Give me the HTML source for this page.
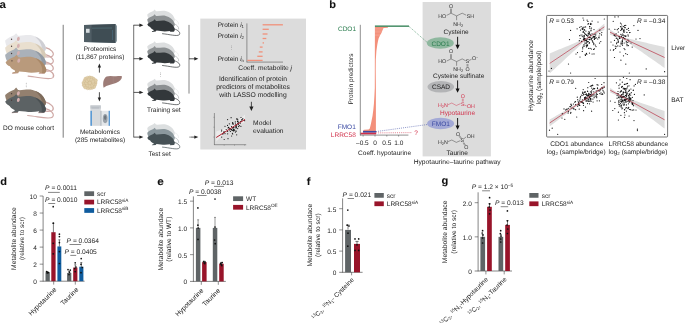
<!DOCTYPE html>
<html lang="en"><head><meta charset="utf-8"><title>Figure</title>
<style>html,body{margin:0;padding:0;background:#fff;overflow:hidden;}svg{display:block;}text{font-family:"Liberation Sans",sans-serif;text-rendering:geometricPrecision;}</style></head>
<body>
<svg width="685" height="323" viewBox="0 0 685 323" font-family="Liberation Sans, sans-serif" font-size="6.5" fill="#222">
<rect x="0" y="0" width="685" height="323" fill="#ffffff"/>
<text transform="translate(-0.5 7.7) scale(1.1 1)" font-size="10.5" font-weight="bold" fill="#111" stroke="#111" stroke-width="0.08">a</text>
<g transform="translate(5.2 40.6) scale(1.48)">
<path d="M26.8,4.6 C31,5.6 33.6,8.4 32,10.4 C30,12.4 22,10 15.2,9.4" fill="none" stroke="#cfa9a6" stroke-width="0.8" stroke-linecap="round"/>
<path d="M0,0 C1.3,-1.3 3.9,-2.9 6,-3.6 L7.4,-5 L8.7,-3.3 C12,-3 15,-4.3 18.5,-3.4 C22.5,-2.4 25.6,0.2 26.8,3 C27.8,4.8 27.8,6.6 26.4,7.4 L3,7.4 C1.3,5 -0.2,1.4 0,0 Z" fill="#e9e9ec"/>
<path d="M20,-2.8 C23.5,-1.6 25.8,0.6 26.8,3 C27.8,4.8 27.8,6.6 26.4,7.4 L24.5,7.4 C25.6,4 23.6,0 20,-2.8 Z" fill="#cfcfd4"/>
<ellipse cx="8.9" cy="-1.1" rx="0.95" ry="1.45" fill="#d6b0b0" transform="rotate(15 8.9 -1.1)"/>
<circle cx="4.3" cy="-0.9" r="0.45" fill="#4a3a3a"/>
</g>
<g transform="translate(5.2 47.6) scale(1.48)">
<path d="M26.8,4.6 C31,5.6 33.6,8.4 32,10.4 C30,12.4 22,10 15.2,9.4" fill="none" stroke="#cfa9a6" stroke-width="0.8" stroke-linecap="round"/>
<path d="M0,0 C1.3,-1.3 3.9,-2.9 6,-3.6 L7.4,-5 L8.7,-3.3 C12,-3 15,-4.3 18.5,-3.4 C22.5,-2.4 25.6,0.2 26.8,3 C27.8,4.8 27.8,6.6 26.4,7.4 L3,7.4 C1.3,5 -0.2,1.4 0,0 Z" fill="#e9dfcf"/>
<path d="M20,-2.8 C23.5,-1.6 25.8,0.6 26.8,3 C27.8,4.8 27.8,6.6 26.4,7.4 L24.5,7.4 C25.6,4 23.6,0 20,-2.8 Z" fill="#d6cab6"/>
<ellipse cx="8.9" cy="-1.1" rx="0.95" ry="1.45" fill="#d6b0b0" transform="rotate(15 8.9 -1.1)"/>
<circle cx="4.3" cy="-0.9" r="0.45" fill="#4a3a3a"/>
</g>
<g transform="translate(5.2 54.8) scale(1.48)">
<path d="M26.8,4.6 C31,5.6 33.6,8.4 32,10.4 C30,12.4 22,10 15.2,9.4" fill="none" stroke="#cfa9a6" stroke-width="0.8" stroke-linecap="round"/>
<path d="M0,0 C1.3,-1.3 3.9,-2.9 6,-3.6 L7.4,-5 L8.7,-3.3 C12,-3 15,-4.3 18.5,-3.4 C22.5,-2.4 25.6,0.2 26.8,3 C27.8,4.8 27.8,6.6 26.4,7.4 L3,7.4 C1.3,5 -0.2,1.4 0,0 Z" fill="#aab1b9"/>
<path d="M20,-2.8 C23.5,-1.6 25.8,0.6 26.8,3 C27.8,4.8 27.8,6.6 26.4,7.4 L24.5,7.4 C25.6,4 23.6,0 20,-2.8 Z" fill="#9299a2"/>
<ellipse cx="8.9" cy="-1.1" rx="0.95" ry="1.45" fill="#d6b0b0" transform="rotate(15 8.9 -1.1)"/>
<circle cx="4.3" cy="-0.9" r="0.45" fill="#4a3a3a"/>
</g>
<g transform="translate(5.6 62.2) scale(1.48)">
<path d="M26.8,4.6 C31,5.6 33.6,8.4 32,10.4 C30,12.4 22,10 15.2,9.4" fill="none" stroke="#cfa9a6" stroke-width="0.8" stroke-linecap="round"/>
<path d="M4.4,7.5 L8.6,7.2 M22.4,7.5 L26.4,7.4" stroke="#cfa9a6" stroke-width="0.7" fill="none"/>
<path d="M0,0 C1.3,-1.3 3.9,-2.9 6,-3.6 L7.4,-5 L8.7,-3.3 C12,-3 15,-4.3 18.5,-3.4 C22.5,-2.4 25.6,0.2 26.8,3 C27.8,4.8 27.8,6.6 26.4,7.4 L22.5,7.5 L23,6.6 C20,7 17,7.4 13.5,6.7 L9.2,6.3 L8.4,7.3 L4.6,7.6 L4.7,7 L6.4,6.4 L6.3,5.6 C4.5,4.9 3.2,3.6 2.9,2.8 C1.6,2.3 0.2,1.2 0,0 Z" fill="#b99a7c"/>
<path d="M20,-2.8 C23.5,-1.6 25.8,0.6 26.8,3 C27.8,4.8 27.8,6.6 26.4,7.4 L24.5,7.4 C25.6,4 23.6,0 20,-2.8 Z" fill="#a88868"/>
<ellipse cx="8.9" cy="-1.1" rx="0.95" ry="1.45" fill="#d6b0b0" transform="rotate(15 8.9 -1.1)"/>
<circle cx="4.3" cy="-0.9" r="0.45" fill="#4a3a3a"/>
</g>
<circle cx="26.2" cy="83.2" r="0.35" fill="#444"/>
<circle cx="26.2" cy="85.0" r="0.35" fill="#444"/>
<circle cx="26.2" cy="86.8" r="0.35" fill="#444"/>
<g transform="translate(5.2 95.0) scale(1.48)">
<path d="M26.8,4.6 C31,5.6 33.6,8.4 32,10.4 C30,12.4 22,10 15.2,9.4" fill="none" stroke="#cfa9a6" stroke-width="0.8" stroke-linecap="round"/>
<path d="M0,0 C1.3,-1.3 3.9,-2.9 6,-3.6 L7.4,-5 L8.7,-3.3 C12,-3 15,-4.3 18.5,-3.4 C22.5,-2.4 25.6,0.2 26.8,3 C27.8,4.8 27.8,6.6 26.4,7.4 L3,7.4 C1.3,5 -0.2,1.4 0,0 Z" fill="#93806f"/>
<path d="M20,-2.8 C23.5,-1.6 25.8,0.6 26.8,3 C27.8,4.8 27.8,6.6 26.4,7.4 L24.5,7.4 C25.6,4 23.6,0 20,-2.8 Z" fill="#7d6b5b"/>
<ellipse cx="8.9" cy="-1.1" rx="0.95" ry="1.45" fill="#d6b0b0" transform="rotate(15 8.9 -1.1)"/>
<circle cx="4.3" cy="-0.9" r="0.45" fill="#4a3a3a"/>
</g>
<g transform="translate(5.2 101.6) scale(1.48)">
<path d="M26.8,4.6 C31,5.6 33.6,8.4 32,10.4 C30,12.4 22,10 15.2,9.4" fill="none" stroke="#cfa9a6" stroke-width="0.8" stroke-linecap="round"/>
<path d="M4.4,7.5 L8.6,7.2 M22.4,7.5 L26.4,7.4" stroke="#cfa9a6" stroke-width="0.7" fill="none"/>
<path d="M0,0 C1.3,-1.3 3.9,-2.9 6,-3.6 L7.4,-5 L8.7,-3.3 C12,-3 15,-4.3 18.5,-3.4 C22.5,-2.4 25.6,0.2 26.8,3 C27.8,4.8 27.8,6.6 26.4,7.4 L22.5,7.5 L23,6.6 C20,7 17,7.4 13.5,6.7 L9.2,6.3 L8.4,7.3 L4.6,7.6 L4.7,7 L6.4,6.4 L6.3,5.6 C4.5,4.9 3.2,3.6 2.9,2.8 C1.6,2.3 0.2,1.2 0,0 Z" fill="#5c6264"/>
<path d="M20,-2.8 C23.5,-1.6 25.8,0.6 26.8,3 C27.8,4.8 27.8,6.6 26.4,7.4 L24.5,7.4 C25.6,4 23.6,0 20,-2.8 Z" fill="#4a5052"/>
<ellipse cx="8.9" cy="-1.1" rx="0.95" ry="1.45" fill="#d6b0b0" transform="rotate(15 8.9 -1.1)"/>
<circle cx="4.3" cy="-0.9" r="0.45" fill="#4a3a3a"/>
</g>
<text x="28.5" y="129.9" text-anchor="middle" >DO mouse cohort</text>
<line x1="63.2" y1="24.8" x2="63.2" y2="137.7" stroke="#444" stroke-width="0.7" />
<path d="M84,25 L115.5,24 L117,26 L117,41 L115.5,43 L84,42 Z" fill="#8d9ca3"/>
<path d="M84,25 L115.5,24 L115.5,43 L84,42 Z" fill="#3f4d54"/>
<rect x="84.00" y="25.00" width="7.60" height="17.00" fill="#505e65" />
<rect x="86.00" y="28.80" width="3.60" height="4.00" fill="#d7dde0" />
<line x1="92" y1="28.2" x2="112" y2="28" stroke="#5f8f98" stroke-width="0.4" />
<line x1="112.5" y1="30" x2="112.5" y2="40" stroke="#4f7f9a" stroke-width="0.4" />
<text x="100" y="50.9" text-anchor="middle" >Proteomics</text>
<text x="100" y="59.3" text-anchor="middle" >(11,867 proteins)</text>
<line x1="99.4" y1="72.6" x2="99.4" y2="66.26" stroke="#222" stroke-width="0.8" />
<path d="M99.4 63.6 L97.75 67.4 L101.05000000000001 67.4 Z" fill="#222"/>
<ellipse cx="89.8" cy="82.9" rx="6.2" ry="6.0" fill="#dcc9a1"/>
<circle cx="95.4" cy="82.9" r="1.75" fill="#dfcda7" stroke="#c9b286" stroke-width="0.3"/>
<circle cx="94.8" cy="84.9" r="1.75" fill="#dfcda7" stroke="#c9b286" stroke-width="0.3"/>
<circle cx="93.9" cy="86.9" r="1.75" fill="#dfcda7" stroke="#c9b286" stroke-width="0.3"/>
<circle cx="91.9" cy="87.8" r="1.75" fill="#dfcda7" stroke="#c9b286" stroke-width="0.3"/>
<circle cx="89.8" cy="88.1" r="1.75" fill="#dfcda7" stroke="#c9b286" stroke-width="0.3"/>
<circle cx="87.6" cy="88.1" r="1.75" fill="#dfcda7" stroke="#c9b286" stroke-width="0.3"/>
<circle cx="85.3" cy="87.3" r="1.75" fill="#dfcda7" stroke="#c9b286" stroke-width="0.3"/>
<circle cx="84.0" cy="85.2" r="1.75" fill="#dfcda7" stroke="#c9b286" stroke-width="0.3"/>
<circle cx="83.6" cy="82.9" r="1.75" fill="#dfcda7" stroke="#c9b286" stroke-width="0.3"/>
<circle cx="84.7" cy="80.8" r="1.75" fill="#dfcda7" stroke="#c9b286" stroke-width="0.3"/>
<circle cx="85.6" cy="78.8" r="1.75" fill="#dfcda7" stroke="#c9b286" stroke-width="0.3"/>
<circle cx="87.6" cy="77.9" r="1.75" fill="#dfcda7" stroke="#c9b286" stroke-width="0.3"/>
<circle cx="89.8" cy="77.6" r="1.75" fill="#dfcda7" stroke="#c9b286" stroke-width="0.3"/>
<circle cx="91.9" cy="78.0" r="1.75" fill="#dfcda7" stroke="#c9b286" stroke-width="0.3"/>
<circle cx="93.7" cy="79.1" r="1.75" fill="#dfcda7" stroke="#c9b286" stroke-width="0.3"/>
<circle cx="95.7" cy="80.5" r="1.75" fill="#dfcda7" stroke="#c9b286" stroke-width="0.3"/>
<circle cx="93.1" cy="83.9" r="1.75" fill="#dfcda7" stroke="#c9b286" stroke-width="0.3"/>
<circle cx="91.7" cy="85.8" r="1.75" fill="#dfcda7" stroke="#c9b286" stroke-width="0.3"/>
<circle cx="89.4" cy="86.3" r="1.75" fill="#dfcda7" stroke="#c9b286" stroke-width="0.3"/>
<circle cx="87.2" cy="85.2" r="1.75" fill="#dfcda7" stroke="#c9b286" stroke-width="0.3"/>
<circle cx="86.3" cy="83.1" r="1.75" fill="#dfcda7" stroke="#c9b286" stroke-width="0.3"/>
<circle cx="87.0" cy="80.8" r="1.75" fill="#dfcda7" stroke="#c9b286" stroke-width="0.3"/>
<circle cx="89.0" cy="79.6" r="1.75" fill="#dfcda7" stroke="#c9b286" stroke-width="0.3"/>
<circle cx="91.4" cy="79.9" r="1.75" fill="#dfcda7" stroke="#c9b286" stroke-width="0.3"/>
<circle cx="93.0" cy="81.6" r="1.75" fill="#dfcda7" stroke="#c9b286" stroke-width="0.3"/>
<circle cx="89.8" cy="82.9" r="1.75" fill="#dfcda7" stroke="#c9b286" stroke-width="0.3"/>
<path d="M103.6,87.8 C102.6,83 103.4,78.6 106.6,76.6 C109,75.4 113,76.2 116,76.2 C118.4,76.2 121,75.6 122,76.4 C122,79 119.6,81.6 116,83 C111.6,84.6 107,85 103.6,87.8 Z" fill="#9d7c77"/>
<line x1="113.2" y1="76.4" x2="113.2" y2="83.6" stroke="#b09490" stroke-width="0.3" />
<line x1="99.4" y1="92.2" x2="99.4" y2="98.74000000000001" stroke="#222" stroke-width="0.8" />
<path d="M99.4 101.4 L97.75 97.60000000000001 L101.05000000000001 97.60000000000001 Z" fill="#222"/>
<rect x="90.40" y="105.40" width="10.40" height="20.40" fill="#d7dadd" />
<rect x="90.40" y="110.80" width="1.60" height="15.00" fill="#5b9bd5" />
<rect x="90.40" y="105.40" width="10.40" height="3.20" fill="#c3c8cd" />
<line x1="91.6" y1="108" x2="99" y2="108" stroke="#9aa0a8" stroke-width="0.4" />
<rect x="100.80" y="110.80" width="9.20" height="15.00" fill="#e4e7ea" />
<rect x="108.60" y="110.80" width="1.40" height="15.00" fill="#5b9bd5" />
<rect x="100.20" y="110.80" width="1.40" height="15.00" fill="#b9bec4" />
<ellipse cx="105.2" cy="118.6" rx="2.4" ry="4.6" fill="#9aa2aa"/>
<ellipse cx="105.2" cy="117.6" rx="1.2" ry="2.4" fill="#6e767e"/>
<text x="100" y="133.8" text-anchor="middle" >Metabolomics</text>
<text x="100" y="142.1" text-anchor="middle" >(285 metabolites)</text>
<line x1="133.7" y1="24.9" x2="133.7" y2="137.4" stroke="#333" stroke-width="0.7" />
<line x1="133.7" y1="25.2" x2="140.6" y2="25.2" stroke="#222" stroke-width="0.75" />
<path d="M143.4 25.2 L139.4 23.5 L139.4 26.9 Z" fill="#222"/>
<line x1="133.7" y1="58.7" x2="140.6" y2="58.7" stroke="#222" stroke-width="0.75" />
<path d="M143.4 58.7 L139.4 57.0 L139.4 60.400000000000006 Z" fill="#222"/>
<line x1="133.7" y1="92.4" x2="140.6" y2="92.4" stroke="#222" stroke-width="0.75" />
<path d="M143.4 92.4 L139.4 90.7 L139.4 94.10000000000001 Z" fill="#222"/>
<line x1="133.7" y1="137.1" x2="140.6" y2="137.1" stroke="#222" stroke-width="0.75" />
<path d="M143.4 137.1 L139.4 135.4 L139.4 138.79999999999998 Z" fill="#222"/>
<g transform="translate(147.3 14.5) scale(1.0)">
<path d="M0,0 C1.3,-1.3 3.9,-2.9 6,-3.6 L7.4,-5 L8.7,-3.3 C12,-3 15,-4.3 18.5,-3.4 C22.5,-2.4 25.6,0.2 26.8,3 C27.8,4.8 27.8,6.6 26.4,7.4 L3,7.4 C1.3,5 -0.2,1.4 0,0 Z" fill="#dcdedf"/>
</g>
<path d="M174.10000000000002,19.1 c3,1 4.6,3 4.4,5.4" fill="none" stroke="#dcdedf" stroke-width="0.5"/>
<g transform="translate(147.3 19.3) scale(1.0)">
<path d="M0,0 C1.3,-1.3 3.9,-2.9 6,-3.6 L7.4,-5 L8.7,-3.3 C12,-3 15,-4.3 18.5,-3.4 C22.5,-2.4 25.6,0.2 26.8,3 C27.8,4.8 27.8,6.6 26.4,7.4 L3,7.4 C1.3,5 -0.2,1.4 0,0 Z" fill="#8c9092"/>
</g>
<path d="M174.10000000000002,23.9 c3,1 4.8,3 4.6,5.6" fill="none" stroke="#8c9092" stroke-width="0.5"/>
<g transform="translate(147.3 24.3) scale(1.0)">
<path d="M26.8,4.6 C31,5.6 33.6,8.4 32,10.4 C30,12.4 22,10 15.2,9.4" fill="none" stroke="#33383b" stroke-width="0.7" stroke-linecap="round"/>
<path d="M0,0 C1.3,-1.3 3.9,-2.9 6,-3.6 L7.4,-5 L8.7,-3.3 C12,-3 15,-4.3 18.5,-3.4 C22.5,-2.4 25.6,0.2 26.8,3 C27.8,4.8 27.8,6.6 26.4,7.4 L22.5,7.5 L23,6.6 C20,7 17,7.4 13.5,6.7 L9.2,6.3 L8.4,7.3 L4.6,7.6 L4.7,7 L6.4,6.4 L6.3,5.6 C4.5,4.9 3.2,3.6 2.9,2.8 C1.6,2.3 0.2,1.2 0,0 Z" fill="#33383b"/>
</g>
<g transform="translate(147.3 46.300000000000004) scale(1.0)">
<path d="M0,0 C1.3,-1.3 3.9,-2.9 6,-3.6 L7.4,-5 L8.7,-3.3 C12,-3 15,-4.3 18.5,-3.4 C22.5,-2.4 25.6,0.2 26.8,3 C27.8,4.8 27.8,6.6 26.4,7.4 L3,7.4 C1.3,5 -0.2,1.4 0,0 Z" fill="#dcdedf"/>
</g>
<path d="M174.10000000000002,50.900000000000006 c3,1 4.6,3 4.4,5.4" fill="none" stroke="#dcdedf" stroke-width="0.5"/>
<g transform="translate(147.3 51.1) scale(1.0)">
<path d="M0,0 C1.3,-1.3 3.9,-2.9 6,-3.6 L7.4,-5 L8.7,-3.3 C12,-3 15,-4.3 18.5,-3.4 C22.5,-2.4 25.6,0.2 26.8,3 C27.8,4.8 27.8,6.6 26.4,7.4 L3,7.4 C1.3,5 -0.2,1.4 0,0 Z" fill="#8c9092"/>
</g>
<path d="M174.10000000000002,55.7 c3,1 4.8,3 4.6,5.6" fill="none" stroke="#8c9092" stroke-width="0.5"/>
<g transform="translate(147.3 56.10000000000001) scale(1.0)">
<path d="M26.8,4.6 C31,5.6 33.6,8.4 32,10.4 C30,12.4 22,10 15.2,9.4" fill="none" stroke="#33383b" stroke-width="0.7" stroke-linecap="round"/>
<path d="M0,0 C1.3,-1.3 3.9,-2.9 6,-3.6 L7.4,-5 L8.7,-3.3 C12,-3 15,-4.3 18.5,-3.4 C22.5,-2.4 25.6,0.2 26.8,3 C27.8,4.8 27.8,6.6 26.4,7.4 L22.5,7.5 L23,6.6 C20,7 17,7.4 13.5,6.7 L9.2,6.3 L8.4,7.3 L4.6,7.6 L4.7,7 L6.4,6.4 L6.3,5.6 C4.5,4.9 3.2,3.6 2.9,2.8 C1.6,2.3 0.2,1.2 0,0 Z" fill="#33383b"/>
</g>
<circle cx="160.6" cy="72.9" r="0.33" fill="#444"/>
<circle cx="160.6" cy="74.7" r="0.33" fill="#444"/>
<circle cx="160.6" cy="76.5" r="0.33" fill="#444"/>
<g transform="translate(147.3 83.69999999999999) scale(1.0)">
<path d="M0,0 C1.3,-1.3 3.9,-2.9 6,-3.6 L7.4,-5 L8.7,-3.3 C12,-3 15,-4.3 18.5,-3.4 C22.5,-2.4 25.6,0.2 26.8,3 C27.8,4.8 27.8,6.6 26.4,7.4 L3,7.4 C1.3,5 -0.2,1.4 0,0 Z" fill="#dcdedf"/>
</g>
<path d="M174.10000000000002,88.29999999999998 c3,1 4.6,3 4.4,5.4" fill="none" stroke="#dcdedf" stroke-width="0.5"/>
<g transform="translate(147.3 88.49999999999999) scale(1.0)">
<path d="M0,0 C1.3,-1.3 3.9,-2.9 6,-3.6 L7.4,-5 L8.7,-3.3 C12,-3 15,-4.3 18.5,-3.4 C22.5,-2.4 25.6,0.2 26.8,3 C27.8,4.8 27.8,6.6 26.4,7.4 L3,7.4 C1.3,5 -0.2,1.4 0,0 Z" fill="#8c9092"/>
</g>
<path d="M174.10000000000002,93.1 c3,1 4.8,3 4.6,5.6" fill="none" stroke="#8c9092" stroke-width="0.5"/>
<g transform="translate(147.3 93.49999999999999) scale(1.0)">
<path d="M26.8,4.6 C31,5.6 33.6,8.4 32,10.4 C30,12.4 22,10 15.2,9.4" fill="none" stroke="#33383b" stroke-width="0.7" stroke-linecap="round"/>
<path d="M0,0 C1.3,-1.3 3.9,-2.9 6,-3.6 L7.4,-5 L8.7,-3.3 C12,-3 15,-4.3 18.5,-3.4 C22.5,-2.4 25.6,0.2 26.8,3 C27.8,4.8 27.8,6.6 26.4,7.4 L22.5,7.5 L23,6.6 C20,7 17,7.4 13.5,6.7 L9.2,6.3 L8.4,7.3 L4.6,7.6 L4.7,7 L6.4,6.4 L6.3,5.6 C4.5,4.9 3.2,3.6 2.9,2.8 C1.6,2.3 0.2,1.2 0,0 Z" fill="#33383b"/>
</g>
<text x="163.8" y="112" text-anchor="middle" >Training set</text>
<g transform="translate(147.3 127.89999999999999) scale(1.0)">
<path d="M0,0 C1.3,-1.3 3.9,-2.9 6,-3.6 L7.4,-5 L8.7,-3.3 C12,-3 15,-4.3 18.5,-3.4 C22.5,-2.4 25.6,0.2 26.8,3 C27.8,4.8 27.8,6.6 26.4,7.4 L3,7.4 C1.3,5 -0.2,1.4 0,0 Z" fill="#dcdfe0"/>
</g>
<path d="M174.10000000000002,132.5 c3,1 4.6,3 4.4,5.4" fill="none" stroke="#dcdfe0" stroke-width="0.5"/>
<g transform="translate(147.3 132.7) scale(1.0)">
<path d="M0,0 C1.3,-1.3 3.9,-2.9 6,-3.6 L7.4,-5 L8.7,-3.3 C12,-3 15,-4.3 18.5,-3.4 C22.5,-2.4 25.6,0.2 26.8,3 C27.8,4.8 27.8,6.6 26.4,7.4 L3,7.4 C1.3,5 -0.2,1.4 0,0 Z" fill="#8c989d"/>
</g>
<path d="M174.10000000000002,137.29999999999998 c3,1 4.8,3 4.6,5.6" fill="none" stroke="#8c989d" stroke-width="0.5"/>
<g transform="translate(147.3 137.7) scale(1.0)">
<path d="M26.8,4.6 C31,5.6 33.6,8.4 32,10.4 C30,12.4 22,10 15.2,9.4" fill="none" stroke="#465155" stroke-width="0.7" stroke-linecap="round"/>
<path d="M0,0 C1.3,-1.3 3.9,-2.9 6,-3.6 L7.4,-5 L8.7,-3.3 C12,-3 15,-4.3 18.5,-3.4 C22.5,-2.4 25.6,0.2 26.8,3 C27.8,4.8 27.8,6.6 26.4,7.4 L22.5,7.5 L23,6.6 C20,7 17,7.4 13.5,6.7 L9.2,6.3 L8.4,7.3 L4.6,7.6 L4.7,7 L6.4,6.4 L6.3,5.6 C4.5,4.9 3.2,3.6 2.9,2.8 C1.6,2.3 0.2,1.2 0,0 Z" fill="#465155"/>
</g>
<text x="159.6" y="155.8" text-anchor="middle" >Test set</text>
<line x1="189" y1="24.9" x2="189" y2="93.6" stroke="#777" stroke-width="0.9" />
<line x1="189" y1="58.8" x2="195.5" y2="58.8" stroke="#222" stroke-width="0.75" />
<path d="M198.3 58.8 L194.3 57.099999999999994 L194.3 60.5 Z" fill="#222"/>
<line x1="189.2" y1="137.1" x2="192" y2="137.1" stroke="#888" stroke-width="0.9" />
<line x1="191.6" y1="137.1" x2="195.5" y2="137.1" stroke="#222" stroke-width="0.75" />
<path d="M198.3 137.1 L194.3 135.4 L194.3 138.79999999999998 Z" fill="#222"/>
<rect x="200.30" y="18.60" width="105.70" height="130.90" fill="#dcdcdc" />
<text x="244" y="26.9" text-anchor="end" >Protein <tspan font-style="italic">i</tspan><tspan font-size="4.3" dy="1.20">1</tspan></text>
<text x="244" y="37.7" text-anchor="end" >Protein <tspan font-style="italic">i</tspan><tspan font-size="4.3" dy="1.20">2</tspan></text>
<circle cx="231.6" cy="45.9" r="0.3" fill="#444"/>
<circle cx="231.6" cy="47.6" r="0.3" fill="#444"/>
<circle cx="231.6" cy="49.3" r="0.3" fill="#444"/>
<text x="244" y="60.8" text-anchor="end" >Protein <tspan font-style="italic">i</tspan><tspan font-size="4.3" dy="1.20">n</tspan></text>
<line x1="246.9" y1="23.4" x2="246.9" y2="62.2" stroke="#555" stroke-width="0.6" />
<line x1="246.6" y1="62.1" x2="283" y2="62.1" stroke="#555" stroke-width="0.6" />
<rect x="262.60" y="24.15" width="20.30" height="1.30" fill="#f0917b" />
<rect x="262.60" y="28.65" width="6.20" height="1.30" fill="#f0917b" />
<rect x="262.60" y="33.35" width="4.90" height="1.30" fill="#f0917b" />
<rect x="262.60" y="37.85" width="3.70" height="1.30" fill="#f0917b" />
<rect x="262.60" y="42.25" width="1.40" height="1.30" fill="#f0917b" />
<rect x="259.80" y="46.45" width="2.80" height="1.30" fill="#f0917b" />
<rect x="258.80" y="51.25" width="3.80" height="1.30" fill="#f0917b" />
<rect x="257.30" y="55.65" width="5.30" height="1.30" fill="#f0917b" />
<rect x="247.30" y="59.75" width="15.30" height="1.30" fill="#f0917b" />
<text x="265.2" y="70.4" text-anchor="middle" font-size="6.7" >Coeff. metabolite <tspan font-style="italic">j</tspan></text>
<text x="253" y="80.8" text-anchor="middle" font-size="6.78" >Identification of protein</text>
<text x="253" y="89.1" text-anchor="middle" font-size="6.78" >predictors of metabolites</text>
<text x="253" y="97.3" text-anchor="middle" font-size="6.78" >with LASSO modelling</text>
<line x1="251.4" y1="101.8" x2="251.4" y2="107.85" stroke="#222" stroke-width="0.8" />
<path d="M251.4 111 L249.3 106.5 L253.5 106.5 Z" fill="#222"/>
<line x1="214.4" y1="113" x2="214.4" y2="144.9" stroke="#555" stroke-width="0.55" />
<line x1="214.1" y1="144.7" x2="246.2" y2="144.7" stroke="#555" stroke-width="0.55" />
<line x1="213.5" y1="117.3" x2="214.4" y2="117.3" stroke="#555" stroke-width="0.45" />
<line x1="213.5" y1="127.2" x2="214.4" y2="127.2" stroke="#555" stroke-width="0.45" />
<line x1="213.5" y1="137.1" x2="214.4" y2="137.1" stroke="#555" stroke-width="0.45" />
<line x1="224.2" y1="144.7" x2="224.2" y2="145.6" stroke="#555" stroke-width="0.45" />
<line x1="234.5" y1="144.7" x2="234.5" y2="145.6" stroke="#555" stroke-width="0.45" />
<line x1="244.7" y1="144.7" x2="244.7" y2="145.6" stroke="#555" stroke-width="0.45" />
<path d="M216.2,131.4 L223,129.2 L230,126.6 L237,121.6 L245,114.6 L245,122.2 L237,125.2 L230,129.4 L223,135 L216.2,141.6 Z" fill="#ebebeb"/>
<g fill="#111"><circle cx="225.0" cy="133.6" r="0.58"/><circle cx="237.8" cy="121.7" r="0.58"/><circle cx="224.4" cy="132.1" r="0.58"/><circle cx="234.8" cy="130.6" r="0.58"/><circle cx="225.0" cy="126.3" r="0.58"/><circle cx="236.1" cy="127.1" r="0.58"/><circle cx="240.9" cy="126.3" r="0.58"/><circle cx="231.5" cy="126.7" r="0.58"/><circle cx="227.5" cy="125.4" r="0.58"/><circle cx="232.6" cy="127.8" r="0.58"/><circle cx="230.1" cy="128.5" r="0.58"/><circle cx="233.6" cy="129.6" r="0.58"/><circle cx="238.4" cy="124.5" r="0.58"/><circle cx="221.7" cy="137.1" r="0.58"/><circle cx="223.9" cy="131.9" r="0.58"/><circle cx="223.6" cy="132.9" r="0.58"/><circle cx="227.6" cy="131.3" r="0.58"/><circle cx="236.9" cy="118.7" r="0.58"/><circle cx="230.4" cy="131.5" r="0.58"/><circle cx="231.5" cy="129.5" r="0.58"/><circle cx="232.6" cy="122.7" r="0.58"/><circle cx="235.3" cy="121.9" r="0.58"/><circle cx="242.8" cy="118.5" r="0.58"/><circle cx="236.0" cy="125.1" r="0.58"/><circle cx="237.5" cy="121.4" r="0.58"/><circle cx="237.8" cy="123.4" r="0.58"/><circle cx="239.3" cy="125.7" r="0.58"/><circle cx="232.9" cy="123.6" r="0.58"/><circle cx="236.5" cy="126.8" r="0.58"/><circle cx="241.5" cy="119.9" r="0.58"/><circle cx="235.2" cy="127.8" r="0.58"/><circle cx="233.7" cy="127.4" r="0.58"/><circle cx="233.1" cy="124.3" r="0.58"/><circle cx="226.2" cy="129.5" r="0.58"/><circle cx="235.4" cy="132.1" r="0.58"/><circle cx="237.7" cy="128.6" r="0.58"/><circle cx="236.5" cy="127.8" r="0.58"/><circle cx="233.1" cy="130.3" r="0.58"/><circle cx="242.3" cy="119.7" r="0.58"/><circle cx="228.0" cy="138.7" r="0.58"/><circle cx="233.4" cy="130.9" r="0.58"/><circle cx="237.1" cy="119.4" r="0.58"/><circle cx="233.1" cy="130.2" r="0.58"/><circle cx="232.8" cy="123.2" r="0.58"/><circle cx="231.4" cy="129.6" r="0.58"/><circle cx="238.5" cy="126.6" r="0.58"/><circle cx="232.4" cy="133.3" r="0.58"/><circle cx="227.7" cy="133.8" r="0.58"/><circle cx="238.4" cy="122.2" r="0.58"/><circle cx="221.7" cy="130.0" r="0.58"/><circle cx="233.4" cy="129.0" r="0.58"/><circle cx="241.0" cy="117.5" r="0.58"/><circle cx="232.1" cy="130.4" r="0.58"/><circle cx="231.1" cy="117.7" r="0.58"/><circle cx="236.7" cy="134.8" r="0.58"/><circle cx="237.8" cy="119.9" r="0.58"/><circle cx="229.7" cy="130.0" r="0.58"/><circle cx="232.7" cy="134.0" r="0.58"/><circle cx="231.6" cy="136.0" r="0.58"/><circle cx="228.1" cy="127.9" r="0.58"/><circle cx="236.2" cy="131.2" r="0.58"/><circle cx="235.8" cy="126.5" r="0.58"/><circle cx="221.5" cy="131.0" r="0.58"/><circle cx="228.5" cy="127.4" r="0.58"/><circle cx="235.4" cy="123.9" r="0.58"/><circle cx="236.6" cy="125.1" r="0.58"/><circle cx="230.1" cy="129.3" r="0.58"/><circle cx="234.5" cy="129.8" r="0.58"/><circle cx="229.3" cy="128.2" r="0.58"/><circle cx="224.2" cy="139.5" r="0.58"/><circle cx="240.4" cy="121.5" r="0.58"/><circle cx="229.3" cy="123.8" r="0.58"/><circle cx="233.0" cy="127.8" r="0.58"/><circle cx="244.6" cy="120.7" r="0.58"/><circle cx="227.6" cy="119.6" r="0.58"/><circle cx="240.2" cy="123.3" r="0.58"/><circle cx="222.8" cy="134.2" r="0.58"/></g>
<line x1="216.2" y1="137.5" x2="245" y2="119.4" stroke="#b01e2e" stroke-width="1.0" />
<text x="253.1" y="124.8" font-size="6.7" >Model</text>
<text x="253.1" y="133.0" font-size="6.7" >evaluation</text>
<text transform="translate(329.2 7.7) scale(1.04 1)" font-size="10.6" font-weight="bold" fill="#111" stroke="#111" stroke-width="0.08">b</text>
<rect x="422.60" y="2.00" width="68.30" height="154.40" fill="#dcdcdc" />
<text x="356" y="30.5" text-anchor="end" fill="#2b7d4f" >CDO1</text>
<text x="355.8" y="129.2" text-anchor="end" fill="#3c4ba3" >FMO1</text>
<text x="355.8" y="137.0" text-anchor="end" fill="#d1304a" >LRRC58</text>
<text text-anchor="middle" transform="translate(353.4 79) rotate(-90)" >Protein predictors</text>
<path d="M374.9,26.7 L387.9,26.7 L387.9,27.7 L383.6,27.9 L382.6,30 L381.7,32.4 L380.0,35.5 L378.6,38.6 L377.9,41.5 L377.3,44.8 L376.4,51 L375.8,59.7 L375.7,70 L375.8,80 L375.9,88 L375.9,131 L363.2,131 L363.4,129.9 L364.4,129.8 L368.6,129.4 L369.8,128.4 L370.4,126 L371,123.4 L371.7,120 L372.5,116 L373.3,110 L373.9,104 L374.4,96 L374.8,88 Z" fill="#f3907b"/>
<line x1="374.9" y1="28.6" x2="386" y2="28.6" stroke="#fff" stroke-width="0.25" opacity="0.45"/>
<line x1="374.9" y1="30.0" x2="386" y2="30.0" stroke="#fff" stroke-width="0.25" opacity="0.45"/>
<line x1="374.9" y1="31.4" x2="386" y2="31.4" stroke="#fff" stroke-width="0.25" opacity="0.45"/>
<line x1="374.9" y1="32.8" x2="386" y2="32.8" stroke="#fff" stroke-width="0.25" opacity="0.45"/>
<line x1="374.9" y1="34.2" x2="386" y2="34.2" stroke="#fff" stroke-width="0.25" opacity="0.45"/>
<line x1="374.9" y1="35.6" x2="386" y2="35.6" stroke="#fff" stroke-width="0.25" opacity="0.45"/>
<rect x="374.90" y="25.50" width="34.10" height="1.30" fill="#2b7d4f" />
<rect x="363.00" y="130.90" width="13.00" height="1.80" fill="#3c4ba3" />
<rect x="360.50" y="132.70" width="15.50" height="1.70" fill="#d1304a" />
<line x1="360.3" y1="24.8" x2="360.3" y2="135.4" stroke="#444" stroke-width="0.6" />
<line x1="360.0" y1="135.1" x2="408.4" y2="135.1" stroke="#444" stroke-width="0.6" />
<line x1="363.1" y1="135.1" x2="363.1" y2="136.6" stroke="#444" stroke-width="0.5" />
<line x1="375" y1="135.1" x2="375" y2="136.6" stroke="#444" stroke-width="0.5" />
<line x1="386.8" y1="135.1" x2="386.8" y2="136.6" stroke="#444" stroke-width="0.5" />
<line x1="398.6" y1="135.1" x2="398.6" y2="136.6" stroke="#444" stroke-width="0.5" />
<text x="362.4" y="145.0" text-anchor="middle" >&#8211;0.5</text>
<text x="375" y="145.0" text-anchor="middle" >0</text>
<text x="386.8" y="145.0" text-anchor="middle" >0.5</text>
<text x="398.8" y="145.0" text-anchor="middle" >1.0</text>
<text x="384.6" y="155.3" text-anchor="middle" >Coeff. hypotaurine</text>
<line x1="409" y1="26.4" x2="427.4" y2="42.6" stroke="#2b7d4f" stroke-width="0.6" stroke-dasharray="1 1.1"/>
<line x1="376" y1="131.6" x2="428.2" y2="124.4" stroke="#3c4ba3" stroke-width="0.6" stroke-dasharray="1 1.1"/>
<line x1="376" y1="132.9" x2="412" y2="132.6" stroke="#d1304a" stroke-width="0.6" stroke-dasharray="1 1.1"/>
<text x="414.3" y="134.8" fill="#d1304a" >?</text>
<ellipse cx="440.3" cy="43.0" rx="13.5" ry="5.7" fill="#8fb89f"/>
<text x="440.5" y="45.6" text-anchor="middle" fill="#2b7d4f" >CDO1</text>
<ellipse cx="440.8" cy="86.8" rx="13.3" ry="5.8" fill="#b3b4b6"/>
<text x="441.0" y="88.9" text-anchor="middle" >CSAD</text>
<ellipse cx="440.6" cy="123.5" rx="13.5" ry="5.7" fill="#a3a9d6"/>
<text x="440.8" y="125.9" text-anchor="middle" fill="#3c4ba3" >FMO1</text>
<line x1="457.6" y1="36.8" x2="457.6" y2="46.050000000000004" stroke="#111" stroke-width="0.95" />
<path d="M457.6 49.2 L455.45000000000005 44.7 L459.75 44.7 Z" fill="#111"/>
<line x1="457.6" y1="80.4" x2="457.6" y2="89.72" stroke="#111" stroke-width="0.95" />
<path d="M457.6 92.8 L455.55 88.39999999999999 L459.65000000000003 88.39999999999999 Z" fill="#111"/>
<line x1="457.6" y1="118.0" x2="457.6" y2="126.72000000000001" stroke="#111" stroke-width="0.95" />
<path d="M457.6 129.8 L455.55 125.4 L459.65000000000003 125.4 Z" fill="#111"/>
<text x="451" y="7.9" text-anchor="middle" font-size="5.3" fill="#333" >O</text>
<line x1="450.55" y1="8.6" x2="450.55" y2="13" stroke="#333" stroke-width="0.4" />
<line x1="451.45" y1="8.6" x2="451.45" y2="13" stroke="#333" stroke-width="0.4" />
<text x="446.1" y="17.7" text-anchor="end" font-size="5.3" fill="#333" >HO</text>
<polyline points="446.6,15.4 451,13.2 456.6,15.9 462.2,13.2 466.2,15.2" fill="none" stroke="#333" stroke-width="0.45"/>
<polyline points="456.6,15.9 456.6,20.2" fill="none" stroke="#333" stroke-width="0.45"/>
<text x="453.3" y="25.8" font-size="5.3" fill="#333" >NH<tspan font-size="3.9" dy="1.00">2</tspan></text>
<text x="466.7" y="17.7" font-size="5.3" fill="#333" >SH</text>
<text x="456.1" y="33.5" text-anchor="middle" >Cysteine</text>
<text x="451" y="53.3" text-anchor="middle" font-size="5.3" fill="#333" >O</text>
<line x1="450.55" y1="54.2" x2="450.55" y2="58.7" stroke="#333" stroke-width="0.4" />
<line x1="451.45" y1="54.2" x2="451.45" y2="58.7" stroke="#333" stroke-width="0.4" />
<text x="446.1" y="63.4" text-anchor="end" font-size="5.3" fill="#333" >HO</text>
<polyline points="446.6,61.1 451,58.9 456.6,61.6 462.2,58.9 465.8,60.8" fill="none" stroke="#333" stroke-width="0.45"/>
<polyline points="456.6,61.6 456.6,65.8" fill="none" stroke="#333" stroke-width="0.45"/>
<text x="453.3" y="71.4" font-size="5.3" fill="#333" >NH<tspan font-size="3.9" dy="1.00">2</tspan></text>
<text x="467.4" y="63.4" text-anchor="middle" font-size="5.3" fill="#333" >S</text>
<polyline points="469,60.6 471.6,59.2" fill="none" stroke="#333" stroke-width="0.45"/>
<text x="472" y="60.2" font-size="5.3" fill="#333" >O<tspan font-size="3.4" dy="-1.80">&#8211;</tspan></text>
<line x1="467.05" y1="64" x2="467.05" y2="66.6" stroke="#333" stroke-width="0.4" />
<line x1="467.95" y1="64" x2="467.95" y2="66.6" stroke="#333" stroke-width="0.4" />
<text x="467.6" y="70.6" text-anchor="middle" font-size="5.3" fill="#333" >O</text>
<text x="458.6" y="78.2" text-anchor="middle" >Cysteine sulfinate</text>
<text x="437.9" y="106.9" font-size="5.3" fill="#d1304a" >H<tspan font-size="3.9" dy="1.00">2</tspan><tspan dy="-1.00">N</tspan></text>
<polyline points="447.8,104.8 451.8,103 456.3,105.5 460.6,103.6" fill="none" stroke="#d1304a" stroke-width="0.45"/>
<text x="462.7" y="105.9" text-anchor="middle" font-size="5.3" fill="#d1304a" >S</text>
<text x="462.9" y="97.9" text-anchor="middle" font-size="5.3" fill="#d1304a" >O</text>
<line x1="462.35" y1="98.6" x2="462.35" y2="101.6" stroke="#d1304a" stroke-width="0.4" />
<line x1="463.25" y1="98.6" x2="463.25" y2="101.6" stroke="#d1304a" stroke-width="0.4" />
<polyline points="464.6,105 466.6,105.9" fill="none" stroke="#d1304a" stroke-width="0.45"/>
<text x="466.9" y="107.7" font-size="5.3" fill="#d1304a" >OH</text>
<text x="457.5" y="114.7" text-anchor="middle" fill="#d1304a" >Hypotaurine</text>
<text x="437.9" y="143.9" font-size="5.3" fill="#333" >H<tspan font-size="3.9" dy="1.00">2</tspan><tspan dy="-1.00">N</tspan></text>
<polyline points="447.8,141.7 451.8,140 456.3,142.4 460.4,140.6" fill="none" stroke="#333" stroke-width="0.45"/>
<text x="462.2" y="142.2" text-anchor="middle" font-size="5.3" fill="#333" >S</text>
<text x="458.1" y="135.7" text-anchor="middle" font-size="5.3" fill="#333" >O</text>
<line x1="459.02557736754795" y1="136.14961508830137" x2="460.82557736754796" y2="138.84961508830136" stroke="#333" stroke-width="0.4" />
<line x1="459.774422632452" y1="135.65038491169864" x2="461.574422632452" y2="138.35038491169863" stroke="#333" stroke-width="0.4" />
<polyline points="463.6,139 466.2,136.8" fill="none" stroke="#333" stroke-width="0.45"/>
<text x="466.7" y="137.6" font-size="5.3" fill="#333" >OH</text>
<line x1="463.02146968608054" y1="142.84334091609108" x2="464.82146968608055" y2="145.6433409160911" stroke="#333" stroke-width="0.4" />
<line x1="463.7785303139194" y1="142.3566590839089" x2="465.57853031391943" y2="145.15665908390892" stroke="#333" stroke-width="0.4" />
<text x="466.3" y="149.2" text-anchor="middle" font-size="5.3" fill="#333" >O</text>
<text x="457.2" y="155.4" text-anchor="middle" >Taurine</text>
<text x="457.2" y="163.6" text-anchor="middle" font-size="6.7" >Hypotaurine&#8211;taurine pathway</text>
<text transform="translate(527.1 7.7) scale(1.1 1)" font-size="10.5" font-weight="bold" fill="#111" stroke="#111" stroke-width="0.08">c</text>
<defs>
<clipPath id="cTL"><rect x="546.6" y="15.45" width="60.69999999999993" height="60.849999999999994"/></clipPath>
<clipPath id="cTR"><rect x="607.3" y="15.45" width="60.30000000000007" height="60.849999999999994"/></clipPath>
<clipPath id="cBL"><rect x="546.6" y="76.3" width="60.69999999999993" height="60.7"/></clipPath>
<clipPath id="cBR"><rect x="607.3" y="76.3" width="60.30000000000007" height="60.7"/></clipPath>
</defs>
<polygon clip-path="url(#cTL)" points="549.7,53.4 552.0,52.5 554.3,51.5 556.5,50.6 558.8,49.6 561.1,48.7 563.4,47.8 565.7,46.8 567.9,45.9 570.2,44.9 572.5,44.0 574.8,43.0 577.0,42.0 579.3,41.0 581.6,40.0 583.9,38.9 586.2,37.7 588.4,36.3 590.7,34.7 593.0,32.9 595.3,31.1 597.6,29.3 599.8,27.4 602.1,25.5 604.4,23.6 604.4,30.0 602.1,31.1 599.8,32.3 597.6,33.5 595.3,34.7 593.0,35.9 590.7,37.2 588.4,38.7 586.2,40.3 583.9,42.1 581.6,44.1 579.3,46.1 577.0,48.2 574.8,50.3 572.5,52.3 570.2,54.4 567.9,56.5 565.7,58.6 563.4,60.7 561.1,62.9 558.8,65.0 556.5,67.1 554.3,69.2 552.0,71.3 549.7,73.4" fill="#dedede"/>
<g fill="#111"><circle cx="582.5" cy="29.3" r="0.6"/><circle cx="592.1" cy="21.1" r="0.6"/><circle cx="587.9" cy="21.4" r="0.6"/><circle cx="594.3" cy="39.1" r="0.6"/><circle cx="595.7" cy="34.0" r="0.6"/><circle cx="590.7" cy="35.5" r="0.6"/><circle cx="584.8" cy="38.6" r="0.6"/><circle cx="582.1" cy="35.0" r="0.6"/><circle cx="592.2" cy="38.0" r="0.6"/><circle cx="586.5" cy="53.4" r="0.6"/><circle cx="588.9" cy="33.4" r="0.6"/><circle cx="589.4" cy="33.8" r="0.6"/><circle cx="586.6" cy="35.1" r="0.6"/><circle cx="599.1" cy="37.8" r="0.6"/><circle cx="589.5" cy="42.5" r="0.6"/><circle cx="599.1" cy="36.0" r="0.6"/><circle cx="585.4" cy="55.4" r="0.6"/><circle cx="581.0" cy="35.0" r="0.6"/><circle cx="592.1" cy="54.0" r="0.6"/><circle cx="583.7" cy="20.1" r="0.6"/><circle cx="592.0" cy="33.8" r="0.6"/><circle cx="586.6" cy="40.9" r="0.6"/><circle cx="589.8" cy="39.7" r="0.6"/><circle cx="586.4" cy="46.9" r="0.6"/><circle cx="596.4" cy="37.8" r="0.6"/><circle cx="586.3" cy="42.9" r="0.6"/><circle cx="591.1" cy="30.1" r="0.6"/><circle cx="586.2" cy="45.2" r="0.6"/><circle cx="588.1" cy="35.2" r="0.6"/><circle cx="589.7" cy="37.4" r="0.6"/><circle cx="588.6" cy="23.7" r="0.6"/><circle cx="597.7" cy="39.0" r="0.6"/><circle cx="584.0" cy="44.7" r="0.6"/><circle cx="590.2" cy="37.7" r="0.6"/><circle cx="594.0" cy="53.9" r="0.6"/><circle cx="591.5" cy="49.0" r="0.6"/><circle cx="599.8" cy="30.2" r="0.6"/><circle cx="585.9" cy="43.2" r="0.6"/><circle cx="579.7" cy="35.7" r="0.6"/><circle cx="595.3" cy="45.1" r="0.6"/><circle cx="591.6" cy="24.0" r="0.6"/><circle cx="600.8" cy="41.6" r="0.6"/><circle cx="592.6" cy="41.2" r="0.6"/><circle cx="579.7" cy="27.3" r="0.6"/><circle cx="582.3" cy="51.4" r="0.6"/><circle cx="584.3" cy="35.9" r="0.6"/><circle cx="587.3" cy="41.7" r="0.6"/><circle cx="591.2" cy="39.5" r="0.6"/><circle cx="589.5" cy="39.5" r="0.6"/><circle cx="595.0" cy="36.9" r="0.6"/><circle cx="585.4" cy="40.6" r="0.6"/><circle cx="580.5" cy="30.1" r="0.6"/><circle cx="583.4" cy="39.7" r="0.6"/><circle cx="599.5" cy="43.1" r="0.6"/><circle cx="594.5" cy="39.3" r="0.6"/><circle cx="590.1" cy="34.4" r="0.6"/><circle cx="587.1" cy="20.1" r="0.6"/><circle cx="582.3" cy="28.3" r="0.6"/><circle cx="593.0" cy="42.4" r="0.6"/><circle cx="594.5" cy="48.8" r="0.6"/><circle cx="587.0" cy="45.2" r="0.6"/><circle cx="598.8" cy="37.5" r="0.6"/><circle cx="594.3" cy="36.4" r="0.6"/><circle cx="580.2" cy="38.5" r="0.6"/><circle cx="584.3" cy="38.4" r="0.6"/><circle cx="586.2" cy="39.9" r="0.6"/><circle cx="577.5" cy="52.6" r="0.6"/><circle cx="595.7" cy="35.1" r="0.6"/><circle cx="583.9" cy="37.6" r="0.6"/><circle cx="592.1" cy="40.6" r="0.6"/><circle cx="590.7" cy="23.4" r="0.6"/><circle cx="582.7" cy="47.3" r="0.6"/><circle cx="589.8" cy="26.6" r="0.6"/><circle cx="584.1" cy="27.2" r="0.6"/><circle cx="583.3" cy="46.1" r="0.6"/><circle cx="587.4" cy="45.7" r="0.6"/><circle cx="589.6" cy="26.7" r="0.6"/><circle cx="585.2" cy="54.3" r="0.6"/><circle cx="584.6" cy="29.9" r="0.6"/><circle cx="595.1" cy="38.3" r="0.6"/><circle cx="588.6" cy="48.3" r="0.6"/><circle cx="579.3" cy="40.7" r="0.6"/><circle cx="583.0" cy="27.3" r="0.6"/><circle cx="584.3" cy="46.1" r="0.6"/><circle cx="587.9" cy="24.1" r="0.6"/><circle cx="582.7" cy="48.8" r="0.6"/><circle cx="594.0" cy="29.6" r="0.6"/><circle cx="601.5" cy="34.9" r="0.6"/><circle cx="582.3" cy="36.6" r="0.6"/><circle cx="593.6" cy="49.4" r="0.6"/><circle cx="594.1" cy="34.5" r="0.6"/><circle cx="585.6" cy="26.9" r="0.6"/><circle cx="588.2" cy="33.2" r="0.6"/><circle cx="589.9" cy="28.3" r="0.6"/><circle cx="585.9" cy="31.1" r="0.6"/><circle cx="582.2" cy="28.9" r="0.6"/><circle cx="583.2" cy="28.9" r="0.6"/><circle cx="591.6" cy="38.3" r="0.6"/><circle cx="581.6" cy="41.4" r="0.6"/><circle cx="590.1" cy="48.4" r="0.6"/><circle cx="587.6" cy="36.1" r="0.6"/><circle cx="584.9" cy="38.5" r="0.6"/><circle cx="591.2" cy="38.9" r="0.6"/><circle cx="587.2" cy="41.8" r="0.6"/><circle cx="589.1" cy="39.4" r="0.6"/><circle cx="583.6" cy="39.1" r="0.6"/><circle cx="583.3" cy="31.4" r="0.6"/><circle cx="589.5" cy="53.1" r="0.6"/><circle cx="593.9" cy="37.6" r="0.6"/><circle cx="587.6" cy="44.9" r="0.6"/><circle cx="596.0" cy="46.6" r="0.6"/><circle cx="587.6" cy="39.0" r="0.6"/><circle cx="586.8" cy="35.5" r="0.6"/><circle cx="584.1" cy="35.8" r="0.6"/><circle cx="577.1" cy="28.8" r="0.6"/><circle cx="590.9" cy="30.8" r="0.6"/><circle cx="591.5" cy="28.1" r="0.6"/><circle cx="586.6" cy="40.5" r="0.6"/><circle cx="583.1" cy="32.3" r="0.6"/><circle cx="601.8" cy="32.6" r="0.6"/><circle cx="584.8" cy="33.4" r="0.6"/><circle cx="588.8" cy="37.4" r="0.6"/><circle cx="593.8" cy="43.4" r="0.6"/><circle cx="586.5" cy="35.0" r="0.6"/><circle cx="581.1" cy="26.6" r="0.6"/><circle cx="584.7" cy="43.0" r="0.6"/><circle cx="589.2" cy="43.5" r="0.6"/><circle cx="593.6" cy="36.4" r="0.6"/><circle cx="599.8" cy="33.7" r="0.6"/><circle cx="585.3" cy="34.4" r="0.6"/><circle cx="594.6" cy="36.6" r="0.6"/><circle cx="584.7" cy="40.8" r="0.6"/><circle cx="594.6" cy="36.8" r="0.6"/><circle cx="587.3" cy="45.6" r="0.6"/><circle cx="593.8" cy="44.6" r="0.6"/><circle cx="584.5" cy="39.7" r="0.6"/><circle cx="590.5" cy="24.4" r="0.6"/><circle cx="595.0" cy="38.3" r="0.6"/><circle cx="586.8" cy="54.3" r="0.6"/><circle cx="589.4" cy="32.3" r="0.6"/><circle cx="588.3" cy="41.7" r="0.6"/><circle cx="592.9" cy="37.2" r="0.6"/><circle cx="584.0" cy="32.5" r="0.6"/><circle cx="584.3" cy="29.9" r="0.6"/><circle cx="588.5" cy="34.0" r="0.6"/><circle cx="588.9" cy="31.5" r="0.6"/><circle cx="584.0" cy="36.2" r="0.6"/><circle cx="586.7" cy="46.1" r="0.6"/><circle cx="583.8" cy="39.1" r="0.6"/><circle cx="549.0" cy="71.0" r="0.6"/><circle cx="568.5" cy="64.0" r="0.6"/><circle cx="570.6" cy="73.0" r="0.6"/><circle cx="570.6" cy="30.4" r="0.6"/><circle cx="569.5" cy="39.6" r="0.6"/><circle cx="604.3" cy="19.0" r="0.6"/><circle cx="551.4" cy="68.4" r="0.6"/><circle cx="576.0" cy="54.0" r="0.6"/><circle cx="580.0" cy="57.0" r="0.6"/><circle cx="598.0" cy="22.0" r="0.6"/><circle cx="583.0" cy="18.0" r="0.6"/></g>
<line x1="549.7" y1="63.4" x2="604.4" y2="26.8" stroke="#b83245" stroke-width="0.65" />
<polygon clip-path="url(#cTR)" points="610.0,29.6 612.3,31.0 614.5,32.4 616.8,33.7 619.1,35.0 621.4,36.1 623.6,37.0 625.9,37.8 628.2,38.4 630.5,39.0 632.8,39.6 635.0,40.2 637.3,40.7 639.6,41.3 641.9,41.8 644.1,42.3 646.4,42.8 648.7,43.4 651.0,43.9 653.2,44.4 655.5,44.9 657.8,45.4 660.1,46.0 662.3,46.5 664.6,47.0 664.6,68.0 662.3,66.4 660.1,64.8 657.8,63.2 655.5,61.6 653.2,60.0 651.0,58.5 648.7,56.9 646.4,55.3 644.1,53.7 641.9,52.1 639.6,50.6 637.3,49.0 635.0,47.4 632.8,45.9 630.5,44.3 628.2,42.8 625.9,41.4 623.6,40.1 621.4,38.9 619.1,37.9 616.8,37.0 614.5,36.2 612.3,35.5 610.0,34.8" fill="#dedede"/>
<g fill="#111"><circle cx="623.5" cy="55.8" r="0.6"/><circle cx="627.0" cy="44.4" r="0.6"/><circle cx="624.8" cy="38.6" r="0.6"/><circle cx="625.0" cy="35.5" r="0.6"/><circle cx="618.4" cy="28.6" r="0.6"/><circle cx="616.3" cy="38.2" r="0.6"/><circle cx="624.9" cy="49.6" r="0.6"/><circle cx="624.7" cy="38.6" r="0.6"/><circle cx="625.5" cy="36.3" r="0.6"/><circle cx="613.0" cy="45.0" r="0.6"/><circle cx="620.0" cy="38.2" r="0.6"/><circle cx="620.9" cy="60.2" r="0.6"/><circle cx="627.9" cy="39.8" r="0.6"/><circle cx="616.6" cy="43.7" r="0.6"/><circle cx="617.8" cy="45.9" r="0.6"/><circle cx="614.7" cy="35.7" r="0.6"/><circle cx="626.9" cy="29.4" r="0.6"/><circle cx="622.8" cy="37.8" r="0.6"/><circle cx="626.9" cy="32.4" r="0.6"/><circle cx="625.7" cy="53.6" r="0.6"/><circle cx="614.9" cy="29.3" r="0.6"/><circle cx="624.6" cy="31.0" r="0.6"/><circle cx="615.6" cy="48.4" r="0.6"/><circle cx="627.1" cy="45.7" r="0.6"/><circle cx="627.7" cy="42.5" r="0.6"/><circle cx="618.2" cy="16.8" r="0.6"/><circle cx="624.8" cy="27.6" r="0.6"/><circle cx="622.6" cy="39.8" r="0.6"/><circle cx="616.1" cy="33.8" r="0.6"/><circle cx="631.0" cy="43.0" r="0.6"/><circle cx="614.2" cy="34.9" r="0.6"/><circle cx="622.4" cy="41.4" r="0.6"/><circle cx="626.1" cy="36.0" r="0.6"/><circle cx="621.2" cy="43.8" r="0.6"/><circle cx="615.2" cy="46.1" r="0.6"/><circle cx="624.0" cy="32.4" r="0.6"/><circle cx="619.4" cy="38.4" r="0.6"/><circle cx="614.9" cy="16.9" r="0.6"/><circle cx="624.1" cy="48.5" r="0.6"/><circle cx="621.5" cy="36.7" r="0.6"/><circle cx="622.1" cy="28.2" r="0.6"/><circle cx="624.2" cy="43.0" r="0.6"/><circle cx="622.3" cy="43.7" r="0.6"/><circle cx="617.0" cy="38.3" r="0.6"/><circle cx="618.3" cy="32.0" r="0.6"/><circle cx="623.4" cy="37.4" r="0.6"/><circle cx="626.3" cy="41.5" r="0.6"/><circle cx="616.1" cy="46.7" r="0.6"/><circle cx="614.2" cy="35.1" r="0.6"/><circle cx="623.4" cy="35.1" r="0.6"/><circle cx="624.3" cy="36.0" r="0.6"/><circle cx="617.0" cy="42.3" r="0.6"/><circle cx="621.5" cy="28.1" r="0.6"/><circle cx="622.1" cy="35.4" r="0.6"/><circle cx="623.4" cy="30.8" r="0.6"/><circle cx="622.6" cy="34.0" r="0.6"/><circle cx="629.6" cy="32.6" r="0.6"/><circle cx="628.0" cy="34.9" r="0.6"/><circle cx="627.3" cy="54.5" r="0.6"/><circle cx="619.8" cy="36.7" r="0.6"/><circle cx="617.3" cy="29.7" r="0.6"/><circle cx="619.0" cy="36.3" r="0.6"/><circle cx="626.3" cy="42.8" r="0.6"/><circle cx="619.3" cy="36.7" r="0.6"/><circle cx="614.5" cy="40.3" r="0.6"/><circle cx="620.5" cy="26.7" r="0.6"/><circle cx="618.1" cy="40.2" r="0.6"/><circle cx="622.2" cy="40.7" r="0.6"/><circle cx="619.5" cy="36.8" r="0.6"/><circle cx="620.5" cy="23.1" r="0.6"/><circle cx="620.9" cy="34.4" r="0.6"/><circle cx="618.3" cy="41.9" r="0.6"/><circle cx="632.2" cy="47.1" r="0.6"/><circle cx="621.9" cy="26.1" r="0.6"/><circle cx="620.8" cy="30.4" r="0.6"/><circle cx="622.5" cy="45.2" r="0.6"/><circle cx="621.4" cy="24.0" r="0.6"/><circle cx="628.3" cy="36.0" r="0.6"/><circle cx="628.4" cy="28.4" r="0.6"/><circle cx="633.9" cy="25.6" r="0.6"/><circle cx="622.4" cy="42.1" r="0.6"/><circle cx="609.1" cy="29.1" r="0.6"/><circle cx="613.9" cy="49.5" r="0.6"/><circle cx="625.1" cy="27.7" r="0.6"/><circle cx="613.2" cy="21.3" r="0.6"/><circle cx="622.5" cy="28.9" r="0.6"/><circle cx="623.5" cy="31.1" r="0.6"/><circle cx="613.4" cy="50.2" r="0.6"/><circle cx="624.1" cy="29.8" r="0.6"/><circle cx="620.0" cy="46.2" r="0.6"/><circle cx="625.7" cy="25.4" r="0.6"/><circle cx="628.8" cy="30.5" r="0.6"/><circle cx="624.5" cy="25.7" r="0.6"/><circle cx="618.4" cy="41.9" r="0.6"/><circle cx="615.8" cy="36.1" r="0.6"/><circle cx="623.7" cy="30.1" r="0.6"/><circle cx="628.8" cy="40.9" r="0.6"/><circle cx="621.0" cy="43.8" r="0.6"/><circle cx="628.4" cy="45.6" r="0.6"/><circle cx="621.1" cy="42.1" r="0.6"/><circle cx="623.6" cy="26.6" r="0.6"/><circle cx="620.0" cy="52.0" r="0.6"/><circle cx="617.8" cy="39.5" r="0.6"/><circle cx="630.0" cy="32.5" r="0.6"/><circle cx="621.6" cy="29.4" r="0.6"/><circle cx="646.2" cy="68.9" r="0.6"/><circle cx="629.3" cy="73.0" r="0.6"/><circle cx="664.6" cy="71.7" r="0.6"/><circle cx="625.8" cy="64.1" r="0.6"/><circle cx="640.0" cy="38.6" r="0.6"/><circle cx="638.0" cy="30.4" r="0.6"/><circle cx="636.0" cy="39.0" r="0.6"/><circle cx="611.0" cy="42.0" r="0.6"/><circle cx="610.4" cy="50.0" r="0.6"/><circle cx="614.5" cy="57.5" r="0.6"/></g>
<line x1="610" y1="32.2" x2="664.6" y2="57.5" stroke="#b83245" stroke-width="0.7" />
<polygon clip-path="url(#cBL)" points="549.6,119.6 551.9,118.3 554.2,116.9 556.5,115.6 558.8,114.2 561.1,112.9 563.4,111.5 565.6,110.2 567.9,108.8 570.2,107.5 572.5,106.1 574.8,104.7 577.1,103.4 579.4,102.0 581.7,100.5 584.0,99.1 586.3,97.6 588.6,96.1 590.9,94.5 593.1,92.9 595.4,91.3 597.7,89.6 600.0,87.9 602.3,86.2 604.6,84.5 604.6,88.1 602.3,89.4 600.0,90.8 597.7,92.2 595.4,93.6 593.1,95.0 590.9,96.4 588.6,97.9 586.3,99.4 584.0,101.0 581.7,102.6 579.4,104.3 577.1,105.9 574.8,107.6 572.5,109.3 570.2,111.0 567.9,112.7 565.6,114.4 563.4,116.1 561.1,117.8 558.8,119.5 556.5,121.3 554.2,123.0 551.9,124.7 549.6,126.4" fill="#dedede"/>
<g fill="#111"><circle cx="591.0" cy="101.4" r="0.6"/><circle cx="588.7" cy="93.4" r="0.6"/><circle cx="594.1" cy="94.9" r="0.6"/><circle cx="596.4" cy="94.9" r="0.6"/><circle cx="587.9" cy="101.2" r="0.6"/><circle cx="584.5" cy="98.1" r="0.6"/><circle cx="604.3" cy="93.0" r="0.6"/><circle cx="591.2" cy="85.9" r="0.6"/><circle cx="601.7" cy="84.5" r="0.6"/><circle cx="593.3" cy="88.3" r="0.6"/><circle cx="578.0" cy="101.0" r="0.6"/><circle cx="579.1" cy="104.0" r="0.6"/><circle cx="592.7" cy="85.6" r="0.6"/><circle cx="581.4" cy="95.1" r="0.6"/><circle cx="601.0" cy="92.9" r="0.6"/><circle cx="592.9" cy="95.9" r="0.6"/><circle cx="590.8" cy="99.7" r="0.6"/><circle cx="585.1" cy="99.7" r="0.6"/><circle cx="588.4" cy="99.5" r="0.6"/><circle cx="586.6" cy="98.6" r="0.6"/><circle cx="597.5" cy="88.6" r="0.6"/><circle cx="588.5" cy="95.4" r="0.6"/><circle cx="591.3" cy="85.7" r="0.6"/><circle cx="596.0" cy="95.0" r="0.6"/><circle cx="597.1" cy="84.7" r="0.6"/><circle cx="592.8" cy="89.5" r="0.6"/><circle cx="586.0" cy="94.5" r="0.6"/><circle cx="575.5" cy="101.6" r="0.6"/><circle cx="582.9" cy="95.5" r="0.6"/><circle cx="596.7" cy="96.6" r="0.6"/><circle cx="590.0" cy="96.7" r="0.6"/><circle cx="573.4" cy="104.0" r="0.6"/><circle cx="578.3" cy="104.3" r="0.6"/><circle cx="587.7" cy="100.0" r="0.6"/><circle cx="599.7" cy="91.0" r="0.6"/><circle cx="588.9" cy="95.2" r="0.6"/><circle cx="562.3" cy="113.7" r="0.6"/><circle cx="572.0" cy="108.1" r="0.6"/><circle cx="600.6" cy="89.0" r="0.6"/><circle cx="586.4" cy="93.8" r="0.6"/><circle cx="591.7" cy="90.9" r="0.6"/><circle cx="582.8" cy="102.5" r="0.6"/><circle cx="590.7" cy="98.7" r="0.6"/><circle cx="585.8" cy="99.0" r="0.6"/><circle cx="587.8" cy="96.2" r="0.6"/><circle cx="595.1" cy="96.6" r="0.6"/><circle cx="586.0" cy="101.0" r="0.6"/><circle cx="602.4" cy="93.8" r="0.6"/><circle cx="590.4" cy="91.8" r="0.6"/><circle cx="584.5" cy="99.4" r="0.6"/><circle cx="583.5" cy="103.2" r="0.6"/><circle cx="591.5" cy="93.9" r="0.6"/><circle cx="603.8" cy="91.9" r="0.6"/><circle cx="594.2" cy="88.5" r="0.6"/><circle cx="596.2" cy="90.9" r="0.6"/><circle cx="597.3" cy="94.4" r="0.6"/><circle cx="579.2" cy="109.1" r="0.6"/><circle cx="582.5" cy="93.1" r="0.6"/><circle cx="565.7" cy="109.9" r="0.6"/><circle cx="574.8" cy="102.2" r="0.6"/><circle cx="589.4" cy="94.0" r="0.6"/><circle cx="569.9" cy="106.6" r="0.6"/><circle cx="583.6" cy="110.7" r="0.6"/><circle cx="589.3" cy="96.3" r="0.6"/><circle cx="586.9" cy="94.8" r="0.6"/><circle cx="577.6" cy="106.2" r="0.6"/><circle cx="585.1" cy="94.4" r="0.6"/><circle cx="596.4" cy="93.2" r="0.6"/><circle cx="581.2" cy="101.5" r="0.6"/><circle cx="585.3" cy="98.2" r="0.6"/><circle cx="590.0" cy="99.1" r="0.6"/><circle cx="593.1" cy="102.0" r="0.6"/><circle cx="564.8" cy="119.3" r="0.6"/><circle cx="581.0" cy="101.3" r="0.6"/><circle cx="594.7" cy="88.5" r="0.6"/><circle cx="579.8" cy="105.5" r="0.6"/><circle cx="586.0" cy="97.1" r="0.6"/><circle cx="591.5" cy="95.9" r="0.6"/><circle cx="585.5" cy="107.1" r="0.6"/><circle cx="566.8" cy="109.3" r="0.6"/><circle cx="585.0" cy="91.5" r="0.6"/><circle cx="590.5" cy="94.4" r="0.6"/><circle cx="601.2" cy="94.5" r="0.6"/><circle cx="600.5" cy="89.8" r="0.6"/><circle cx="590.6" cy="100.0" r="0.6"/><circle cx="589.3" cy="101.2" r="0.6"/><circle cx="573.7" cy="108.3" r="0.6"/><circle cx="589.9" cy="96.5" r="0.6"/><circle cx="570.9" cy="112.3" r="0.6"/><circle cx="592.6" cy="85.2" r="0.6"/><circle cx="582.7" cy="93.0" r="0.6"/><circle cx="589.5" cy="97.8" r="0.6"/><circle cx="585.4" cy="97.1" r="0.6"/><circle cx="577.7" cy="99.6" r="0.6"/><circle cx="594.1" cy="89.0" r="0.6"/><circle cx="575.6" cy="104.6" r="0.6"/><circle cx="597.5" cy="87.9" r="0.6"/><circle cx="583.5" cy="105.3" r="0.6"/><circle cx="580.3" cy="97.3" r="0.6"/><circle cx="578.7" cy="103.2" r="0.6"/><circle cx="588.7" cy="82.5" r="0.6"/><circle cx="579.2" cy="105.4" r="0.6"/><circle cx="592.9" cy="94.6" r="0.6"/><circle cx="586.4" cy="100.9" r="0.6"/><circle cx="597.1" cy="100.8" r="0.6"/><circle cx="599.4" cy="100.8" r="0.6"/><circle cx="590.8" cy="96.0" r="0.6"/><circle cx="581.9" cy="102.5" r="0.6"/><circle cx="601.8" cy="87.8" r="0.6"/><circle cx="592.9" cy="99.1" r="0.6"/><circle cx="577.3" cy="97.2" r="0.6"/><circle cx="587.8" cy="87.7" r="0.6"/><circle cx="602.7" cy="88.7" r="0.6"/><circle cx="568.3" cy="108.3" r="0.6"/><circle cx="583.5" cy="94.5" r="0.6"/><circle cx="590.6" cy="98.4" r="0.6"/><circle cx="564.0" cy="108.9" r="0.6"/><circle cx="586.7" cy="95.1" r="0.6"/><circle cx="602.7" cy="94.3" r="0.6"/><circle cx="589.5" cy="103.8" r="0.6"/><circle cx="588.0" cy="98.4" r="0.6"/><circle cx="603.0" cy="90.7" r="0.6"/><circle cx="574.0" cy="109.2" r="0.6"/><circle cx="583.2" cy="103.4" r="0.6"/><circle cx="588.7" cy="94.5" r="0.6"/><circle cx="590.2" cy="86.5" r="0.6"/><circle cx="581.9" cy="101.6" r="0.6"/><circle cx="578.5" cy="102.2" r="0.6"/><circle cx="590.0" cy="94.5" r="0.6"/><circle cx="582.7" cy="92.1" r="0.6"/><circle cx="585.2" cy="92.2" r="0.6"/><circle cx="604.0" cy="82.7" r="0.6"/><circle cx="587.5" cy="91.2" r="0.6"/><circle cx="591.6" cy="88.0" r="0.6"/><circle cx="582.0" cy="102.0" r="0.6"/><circle cx="575.6" cy="109.7" r="0.6"/><circle cx="571.0" cy="104.7" r="0.6"/><circle cx="571.6" cy="105.5" r="0.6"/><circle cx="583.2" cy="89.6" r="0.6"/><circle cx="579.6" cy="100.9" r="0.6"/><circle cx="578.9" cy="104.6" r="0.6"/><circle cx="598.1" cy="90.7" r="0.6"/><circle cx="568.4" cy="111.7" r="0.6"/><circle cx="587.7" cy="91.5" r="0.6"/><circle cx="598.9" cy="90.7" r="0.6"/><circle cx="584.6" cy="92.5" r="0.6"/><circle cx="604.4" cy="87.1" r="0.6"/><circle cx="583.4" cy="93.0" r="0.6"/><circle cx="591.5" cy="92.2" r="0.6"/><circle cx="568.1" cy="113.1" r="0.6"/><circle cx="585.1" cy="98.2" r="0.6"/><circle cx="580.1" cy="98.9" r="0.6"/><circle cx="570.6" cy="113.2" r="0.6"/><circle cx="586.1" cy="97.8" r="0.6"/><circle cx="596.7" cy="97.7" r="0.6"/><circle cx="593.8" cy="91.8" r="0.6"/><circle cx="587.9" cy="95.5" r="0.6"/><circle cx="587.5" cy="103.6" r="0.6"/><circle cx="580.6" cy="96.5" r="0.6"/><circle cx="588.6" cy="101.1" r="0.6"/><circle cx="587.1" cy="95.2" r="0.6"/><circle cx="594.1" cy="97.7" r="0.6"/><circle cx="602.9" cy="87.5" r="0.6"/><circle cx="598.0" cy="85.1" r="0.6"/><circle cx="599.8" cy="93.6" r="0.6"/><circle cx="589.6" cy="97.5" r="0.6"/><circle cx="570.7" cy="106.7" r="0.6"/><circle cx="584.6" cy="97.7" r="0.6"/><circle cx="582.4" cy="99.8" r="0.6"/><circle cx="549.5" cy="130.2" r="0.6"/><circle cx="552.2" cy="128.2" r="0.6"/><circle cx="557.7" cy="134.3" r="0.6"/><circle cx="595.1" cy="78.5" r="0.6"/><circle cx="575.7" cy="88.3" r="0.6"/><circle cx="591.6" cy="111.2" r="0.6"/><circle cx="576.7" cy="117.0" r="0.6"/><circle cx="562.0" cy="118.0" r="0.6"/><circle cx="567.0" cy="109.0" r="0.6"/><circle cx="571.0" cy="104.0" r="0.6"/></g>
<line x1="549.6" y1="123" x2="604.6" y2="86.3" stroke="#b83245" stroke-width="0.7" />
<polygon clip-path="url(#cBR)" points="610.2,87.8 612.5,89.4 614.7,90.9 617.0,92.4 619.3,93.8 621.5,95.2 623.8,96.3 626.1,97.4 628.3,98.3 630.6,99.2 632.9,100.0 635.1,100.8 637.4,101.6 639.7,102.4 641.9,103.2 644.2,104.0 646.5,104.8 648.7,105.6 651.0,106.3 653.3,107.1 655.5,107.9 657.8,108.7 660.1,109.5 662.3,110.2 664.6,111.0 664.6,128.6 662.3,126.9 660.1,125.2 657.8,123.5 655.5,121.8 653.3,120.1 651.0,118.5 648.7,116.8 646.5,115.1 644.2,113.4 641.9,111.7 639.7,110.0 637.4,108.4 635.1,106.7 632.9,105.1 630.6,103.4 628.3,101.8 626.1,100.3 623.8,98.9 621.5,97.6 619.3,96.4 617.0,95.4 614.7,94.4 612.5,93.5 610.2,92.6" fill="#dedede"/>
<g fill="#111"><circle cx="628.3" cy="107.9" r="0.6"/><circle cx="621.1" cy="90.9" r="0.6"/><circle cx="626.4" cy="111.1" r="0.6"/><circle cx="626.6" cy="88.9" r="0.6"/><circle cx="621.2" cy="97.4" r="0.6"/><circle cx="629.1" cy="97.8" r="0.6"/><circle cx="623.1" cy="96.1" r="0.6"/><circle cx="625.5" cy="92.1" r="0.6"/><circle cx="624.8" cy="99.9" r="0.6"/><circle cx="632.3" cy="97.4" r="0.6"/><circle cx="629.2" cy="90.0" r="0.6"/><circle cx="628.7" cy="99.1" r="0.6"/><circle cx="622.3" cy="97.7" r="0.6"/><circle cx="628.9" cy="95.4" r="0.6"/><circle cx="629.5" cy="109.5" r="0.6"/><circle cx="632.2" cy="110.2" r="0.6"/><circle cx="618.9" cy="100.5" r="0.6"/><circle cx="621.6" cy="105.1" r="0.6"/><circle cx="625.1" cy="99.6" r="0.6"/><circle cx="626.9" cy="93.3" r="0.6"/><circle cx="625.2" cy="92.4" r="0.6"/><circle cx="634.4" cy="94.4" r="0.6"/><circle cx="624.8" cy="84.4" r="0.6"/><circle cx="618.0" cy="91.5" r="0.6"/><circle cx="628.4" cy="103.8" r="0.6"/><circle cx="626.1" cy="93.0" r="0.6"/><circle cx="633.3" cy="90.0" r="0.6"/><circle cx="620.8" cy="101.6" r="0.6"/><circle cx="620.2" cy="99.9" r="0.6"/><circle cx="629.2" cy="97.4" r="0.6"/><circle cx="626.7" cy="98.2" r="0.6"/><circle cx="619.1" cy="97.8" r="0.6"/><circle cx="617.2" cy="93.6" r="0.6"/><circle cx="625.7" cy="108.1" r="0.6"/><circle cx="618.4" cy="93.8" r="0.6"/><circle cx="625.8" cy="101.9" r="0.6"/><circle cx="618.4" cy="112.2" r="0.6"/><circle cx="621.0" cy="106.2" r="0.6"/><circle cx="623.8" cy="101.0" r="0.6"/><circle cx="632.5" cy="103.3" r="0.6"/><circle cx="625.4" cy="90.1" r="0.6"/><circle cx="621.7" cy="86.9" r="0.6"/><circle cx="634.1" cy="85.9" r="0.6"/><circle cx="612.8" cy="110.5" r="0.6"/><circle cx="630.7" cy="95.1" r="0.6"/><circle cx="628.7" cy="91.5" r="0.6"/><circle cx="622.1" cy="101.7" r="0.6"/><circle cx="626.6" cy="94.3" r="0.6"/><circle cx="632.3" cy="103.6" r="0.6"/><circle cx="625.4" cy="88.7" r="0.6"/><circle cx="625.4" cy="95.4" r="0.6"/><circle cx="624.4" cy="104.0" r="0.6"/><circle cx="622.1" cy="99.9" r="0.6"/><circle cx="628.5" cy="100.6" r="0.6"/><circle cx="635.4" cy="84.4" r="0.6"/><circle cx="624.5" cy="88.7" r="0.6"/><circle cx="624.4" cy="117.3" r="0.6"/><circle cx="617.1" cy="95.6" r="0.6"/><circle cx="627.8" cy="98.6" r="0.6"/><circle cx="629.0" cy="85.8" r="0.6"/><circle cx="629.3" cy="90.4" r="0.6"/><circle cx="619.1" cy="102.2" r="0.6"/><circle cx="627.0" cy="92.2" r="0.6"/><circle cx="620.9" cy="96.3" r="0.6"/><circle cx="624.7" cy="96.5" r="0.6"/><circle cx="620.0" cy="79.8" r="0.6"/><circle cx="630.8" cy="99.1" r="0.6"/><circle cx="618.9" cy="85.6" r="0.6"/><circle cx="621.5" cy="94.6" r="0.6"/><circle cx="614.8" cy="108.6" r="0.6"/><circle cx="626.7" cy="95.3" r="0.6"/><circle cx="626.3" cy="99.5" r="0.6"/><circle cx="629.7" cy="98.9" r="0.6"/><circle cx="630.6" cy="109.7" r="0.6"/><circle cx="623.2" cy="94.2" r="0.6"/><circle cx="620.6" cy="95.9" r="0.6"/><circle cx="621.3" cy="97.8" r="0.6"/><circle cx="626.1" cy="101.9" r="0.6"/><circle cx="619.3" cy="106.1" r="0.6"/><circle cx="623.2" cy="96.9" r="0.6"/><circle cx="622.3" cy="82.2" r="0.6"/><circle cx="625.9" cy="84.0" r="0.6"/><circle cx="629.8" cy="98.0" r="0.6"/><circle cx="632.0" cy="102.7" r="0.6"/><circle cx="628.0" cy="108.6" r="0.6"/><circle cx="624.5" cy="109.6" r="0.6"/><circle cx="624.1" cy="99.7" r="0.6"/><circle cx="621.5" cy="101.9" r="0.6"/><circle cx="627.8" cy="93.8" r="0.6"/><circle cx="618.7" cy="97.4" r="0.6"/><circle cx="626.6" cy="96.5" r="0.6"/><circle cx="620.1" cy="92.1" r="0.6"/><circle cx="623.4" cy="77.3" r="0.6"/><circle cx="621.9" cy="108.8" r="0.6"/><circle cx="618.7" cy="96.0" r="0.6"/><circle cx="632.5" cy="103.2" r="0.6"/><circle cx="629.0" cy="96.5" r="0.6"/><circle cx="618.4" cy="120.0" r="0.6"/><circle cx="626.1" cy="99.5" r="0.6"/><circle cx="632.3" cy="104.0" r="0.6"/><circle cx="624.9" cy="89.1" r="0.6"/><circle cx="623.9" cy="96.5" r="0.6"/><circle cx="621.5" cy="90.9" r="0.6"/><circle cx="620.0" cy="96.8" r="0.6"/><circle cx="621.9" cy="100.8" r="0.6"/><circle cx="629.4" cy="100.1" r="0.6"/><circle cx="624.7" cy="109.8" r="0.6"/><circle cx="627.7" cy="86.2" r="0.6"/><circle cx="621.3" cy="99.2" r="0.6"/><circle cx="620.5" cy="103.5" r="0.6"/><circle cx="616.4" cy="82.8" r="0.6"/><circle cx="629.2" cy="102.2" r="0.6"/><circle cx="617.1" cy="98.2" r="0.6"/><circle cx="630.9" cy="89.0" r="0.6"/><circle cx="619.1" cy="88.2" r="0.6"/><circle cx="620.0" cy="84.2" r="0.6"/><circle cx="622.4" cy="86.4" r="0.6"/><circle cx="624.9" cy="115.0" r="0.6"/><circle cx="619.7" cy="104.7" r="0.6"/><circle cx="630.1" cy="79.7" r="0.6"/><circle cx="625.1" cy="97.5" r="0.6"/><circle cx="623.0" cy="103.8" r="0.6"/><circle cx="622.6" cy="100.4" r="0.6"/><circle cx="622.8" cy="96.6" r="0.6"/><circle cx="620.9" cy="115.3" r="0.6"/><circle cx="624.3" cy="88.9" r="0.6"/><circle cx="633.7" cy="109.9" r="0.6"/><circle cx="623.7" cy="92.5" r="0.6"/><circle cx="621.2" cy="107.2" r="0.6"/><circle cx="623.1" cy="92.1" r="0.6"/><circle cx="628.6" cy="95.5" r="0.6"/><circle cx="624.4" cy="112.7" r="0.6"/><circle cx="628.7" cy="107.3" r="0.6"/><circle cx="626.6" cy="107.6" r="0.6"/><circle cx="623.8" cy="105.1" r="0.6"/><circle cx="629.5" cy="94.4" r="0.6"/><circle cx="618.6" cy="101.8" r="0.6"/><circle cx="624.0" cy="102.3" r="0.6"/><circle cx="621.8" cy="101.7" r="0.6"/><circle cx="629.1" cy="116.0" r="0.6"/><circle cx="633.0" cy="100.6" r="0.6"/><circle cx="631.3" cy="92.7" r="0.6"/><circle cx="630.1" cy="98.7" r="0.6"/><circle cx="630.8" cy="100.2" r="0.6"/><circle cx="623.5" cy="92.1" r="0.6"/><circle cx="630.5" cy="98.1" r="0.6"/><circle cx="627.9" cy="101.4" r="0.6"/><circle cx="615.0" cy="102.3" r="0.6"/><circle cx="622.9" cy="100.7" r="0.6"/><circle cx="626.9" cy="83.6" r="0.6"/><circle cx="623.1" cy="97.1" r="0.6"/><circle cx="626.4" cy="104.9" r="0.6"/><circle cx="621.4" cy="95.8" r="0.6"/><circle cx="627.5" cy="83.4" r="0.6"/><circle cx="633.3" cy="90.3" r="0.6"/><circle cx="630.8" cy="98.7" r="0.6"/><circle cx="633.4" cy="105.7" r="0.6"/><circle cx="624.4" cy="84.4" r="0.6"/><circle cx="625.2" cy="100.1" r="0.6"/><circle cx="627.2" cy="87.8" r="0.6"/><circle cx="620.7" cy="91.6" r="0.6"/><circle cx="625.9" cy="90.9" r="0.6"/><circle cx="624.1" cy="104.8" r="0.6"/><circle cx="622.6" cy="108.1" r="0.6"/><circle cx="626.0" cy="95.7" r="0.6"/><circle cx="629.7" cy="101.5" r="0.6"/><circle cx="623.3" cy="93.0" r="0.6"/><circle cx="624.4" cy="100.3" r="0.6"/><circle cx="629.9" cy="99.7" r="0.6"/><circle cx="621.7" cy="87.3" r="0.6"/><circle cx="625.8" cy="100.7" r="0.6"/><circle cx="629.9" cy="93.5" r="0.6"/><circle cx="618.6" cy="104.1" r="0.6"/><circle cx="623.8" cy="88.2" r="0.6"/><circle cx="632.4" cy="104.5" r="0.6"/><circle cx="624.9" cy="99.8" r="0.6"/><circle cx="621.1" cy="105.3" r="0.6"/><circle cx="622.6" cy="94.1" r="0.6"/><circle cx="623.2" cy="88.8" r="0.6"/><circle cx="637.4" cy="129.2" r="0.6"/><circle cx="637.4" cy="130.6" r="0.6"/><circle cx="664.6" cy="134.3" r="0.6"/><circle cx="644.2" cy="94.9" r="0.6"/><circle cx="634.0" cy="120.6" r="0.6"/><circle cx="626.8" cy="78.5" r="0.6"/><circle cx="610.4" cy="101.0" r="0.6"/><circle cx="636.0" cy="110.0" r="0.6"/><circle cx="633.0" cy="104.0" r="0.6"/></g>
<line x1="610.2" y1="90.2" x2="664.6" y2="119.8" stroke="#b83245" stroke-width="0.7" />
<rect x="546.6" y="15.45" width="121.0" height="121.55" rx="0.8" fill="none" stroke="#3a3a3a" stroke-width="0.7"/>
<line x1="607.3" y1="15.45" x2="607.3" y2="137.0" stroke="#3a3a3a" stroke-width="0.7" />
<line x1="546.6" y1="76.3" x2="667.6" y2="76.3" stroke="#3a3a3a" stroke-width="0.7" />
<text x="549.2" y="22.5" ><tspan font-style="italic">R</tspan> = 0.53</text>
<text x="665.3" y="22.5" text-anchor="end" ><tspan font-style="italic">R</tspan> = &#8211;0.34</text>
<text x="549.2" y="84.0" ><tspan font-style="italic">R</tspan> = 0.79</text>
<text x="665.3" y="84.0" text-anchor="end" ><tspan font-style="italic">R</tspan> = &#8211;0.38</text>
<text x="671.2" y="49.8" >Liver</text>
<text x="671.2" y="101.9" >BAT</text>
<text text-anchor="middle" font-size="6.7" transform="translate(532.9 75.5) rotate(-90)" >Hypotaurine abundance</text>
<text text-anchor="middle" font-size="6.65" transform="translate(541.3 77.4) rotate(-90)" >log<tspan font-size="4.4" dy="1.20">2</tspan><tspan dy="-1.20"> (sample/pool)</tspan></text>
<text x="576.8" y="145.9" text-anchor="middle" font-size="6.65" >CDO1 abundance</text>
<text x="576.2" y="153.8" text-anchor="middle" font-size="6.6" >log<tspan font-size="4.4" dy="1.20">2</tspan><tspan dy="-1.20"> (sample/bridge)</tspan></text>
<text x="638.4" y="145.9" text-anchor="middle" font-size="6.6" >LRRC58 abundance</text>
<text x="638.0" y="153.8" text-anchor="middle" font-size="6.6" >log<tspan font-size="4.4" dy="1.20">2</tspan><tspan dy="-1.20"> (sample/bridge)</tspan></text>
<text transform="translate(0.2 184.5) scale(1.04 1)" font-size="10.6" font-weight="bold" fill="#111" stroke="#111" stroke-width="0.08">d</text>
<line x1="43.1" y1="196.0" x2="43.1" y2="281.5" stroke="#333" stroke-width="0.6" />
<line x1="39.7" y1="281.2" x2="84.6" y2="281.2" stroke="#333" stroke-width="0.6" />
<text x="36.800000000000004" y="284.05" text-anchor="end" >0</text>
<line x1="39.7" y1="264.15999999999997" x2="43.1" y2="264.15999999999997" stroke="#333" stroke-width="0.55" />
<text x="36.800000000000004" y="267.01" text-anchor="end" >2</text>
<line x1="39.7" y1="247.12" x2="43.1" y2="247.12" stroke="#333" stroke-width="0.55" />
<text x="36.800000000000004" y="249.97" text-anchor="end" >4</text>
<line x1="39.7" y1="230.07999999999998" x2="43.1" y2="230.07999999999998" stroke="#333" stroke-width="0.55" />
<text x="36.800000000000004" y="232.92999999999998" text-anchor="end" >6</text>
<line x1="39.7" y1="213.04" x2="43.1" y2="213.04" stroke="#333" stroke-width="0.55" />
<text x="36.800000000000004" y="215.89" text-anchor="end" >8</text>
<line x1="39.7" y1="196.0" x2="43.1" y2="196.0" stroke="#333" stroke-width="0.55" />
<text x="36.800000000000004" y="198.85" text-anchor="end" >10</text>
<line x1="53.7" y1="281.2" x2="53.7" y2="284.59999999999997" stroke="#333" stroke-width="0.55" />
<line x1="75.3" y1="281.2" x2="75.3" y2="284.59999999999997" stroke="#333" stroke-width="0.55" />
<rect x="45.50" y="272.25" width="4.30" height="8.95" fill="#5f6466" />
<rect x="51.30" y="232.21" width="4.30" height="48.99" fill="#98142a" />
<rect x="57.40" y="246.44" width="3.90" height="34.76" fill="#0f5c9e" />
<rect x="67.10" y="272.94" width="4.20" height="8.26" fill="#5f6466" />
<rect x="73.20" y="267.57" width="4.20" height="13.63" fill="#98142a" />
<rect x="79.30" y="266.72" width="4.10" height="14.48" fill="#0f5c9e" />
<line x1="53.4" y1="223.2" x2="53.4" y2="232.5" stroke="#222" stroke-width="0.6" />
<line x1="52.4" y1="223.2" x2="54.4" y2="223.2" stroke="#222" stroke-width="0.6" />
<line x1="59.4" y1="239.8" x2="59.4" y2="246.5" stroke="#222" stroke-width="0.6" />
<line x1="58.4" y1="239.8" x2="60.4" y2="239.8" stroke="#222" stroke-width="0.6" />
<line x1="75.3" y1="264.8" x2="75.3" y2="268" stroke="#222" stroke-width="0.6" />
<line x1="74.3" y1="264.8" x2="76.3" y2="264.8" stroke="#222" stroke-width="0.6" />
<line x1="81.3" y1="262.6" x2="81.3" y2="267" stroke="#222" stroke-width="0.6" />
<line x1="80.3" y1="262.6" x2="82.3" y2="262.6" stroke="#222" stroke-width="0.6" />
<line x1="69.2" y1="271.2" x2="69.2" y2="273.4" stroke="#222" stroke-width="0.6" />
<line x1="68.2" y1="271.2" x2="70.2" y2="271.2" stroke="#222" stroke-width="0.6" />
<g fill="#111"><circle cx="53.2" cy="206.7" r="0.85"/><circle cx="53.3" cy="223.2" r="0.85"/><circle cx="53.2" cy="243.3" r="0.85"/><circle cx="53.2" cy="253.8" r="0.85"/><circle cx="59.4" cy="234.2" r="0.85"/><circle cx="59.4" cy="236.6" r="0.85"/><circle cx="59.4" cy="242.6" r="0.85"/><circle cx="59.4" cy="251.6" r="0.85"/><circle cx="59.4" cy="263.5" r="0.85"/><circle cx="46.6" cy="271.6" r="0.85"/><circle cx="47.6" cy="272.2" r="0.85"/><circle cx="48.4" cy="272.6" r="0.85"/><circle cx="47.2" cy="272.9" r="0.85"/><circle cx="68.0" cy="269.6" r="0.85"/><circle cx="70.3" cy="270.1" r="0.85"/><circle cx="69.5" cy="272.2" r="0.85"/><circle cx="69.0" cy="274.6" r="0.85"/><circle cx="75.2" cy="262.8" r="0.85"/><circle cx="76.0" cy="267.0" r="0.85"/><circle cx="74.8" cy="268.6" r="0.85"/><circle cx="75.2" cy="271.6" r="0.85"/><circle cx="81.2" cy="258.6" r="0.85"/><circle cx="81.0" cy="264.3" r="0.85"/><circle cx="82.3" cy="267.5" r="0.85"/><circle cx="81.0" cy="272.7" r="0.85"/></g>
<text x="45.1" y="190.3" font-size="6.65" ><tspan font-style="italic">P</tspan> = 0.0011</text>
<line x1="48" y1="192.4" x2="59.8" y2="192.4" stroke="#222" stroke-width="0.55" />
<text x="45.1" y="201.7" font-size="6.65" ><tspan font-style="italic">P</tspan> = 0.0010</text>
<line x1="48.3" y1="203.5" x2="55.2" y2="203.5" stroke="#222" stroke-width="0.55" />
<text x="66.6" y="243" font-size="6.65" ><tspan font-style="italic">P</tspan> = 0.0364</text>
<line x1="69.5" y1="244.5" x2="81.1" y2="244.5" stroke="#222" stroke-width="0.55" />
<text x="64.5" y="253.7" font-size="6.65" ><tspan font-style="italic">P</tspan> = 0.0405</text>
<line x1="70.3" y1="255.4" x2="76.2" y2="255.4" stroke="#222" stroke-width="0.55" />
<rect x="84.30" y="191.30" width="9.80" height="4.75" fill="#5f6466" />
<text x="97" y="195.9" >scr</text>
<rect x="84.30" y="199.70" width="9.80" height="4.75" fill="#98142a" />
<text x="97" y="204.29999999999998" >LRRC58<tspan font-size="4.7" dy="-2.30">siA</tspan></text>
<rect x="84.30" y="208.10" width="9.80" height="4.75" fill="#0f5c9e" />
<text x="97" y="212.7" >LRRC58<tspan font-size="4.7" dy="-2.30">siB</tspan></text>
<text text-anchor="middle" font-size="6.75" transform="translate(15.9 238.6) rotate(-90)" >Metabolite abundace</text>
<text text-anchor="middle" transform="translate(24.1 238.6) rotate(-90)" >(relative to scr)</text>
<text text-anchor="end" font-size="6.75" transform="translate(57.0 290.2) rotate(-45)" >Hypotaurine</text>
<text text-anchor="end" font-size="6.75" transform="translate(78.8 290.2) rotate(-45)" >Taurine</text>
<text transform="translate(157.2 184.5) scale(1.12 1)" font-size="10.5" font-weight="bold" fill="#111" stroke="#111" stroke-width="0.08">e</text>
<line x1="193.4" y1="196.4" x2="193.4" y2="281.7" stroke="#333" stroke-width="0.6" />
<line x1="190.0" y1="281.4" x2="225.8" y2="281.4" stroke="#333" stroke-width="0.6" />
<text x="187.1" y="284.25" text-anchor="end" >0</text>
<line x1="190.0" y1="254.64999999999998" x2="193.4" y2="254.64999999999998" stroke="#333" stroke-width="0.55" />
<text x="187.1" y="257.5" text-anchor="end" >0.5</text>
<line x1="190.0" y1="227.89999999999998" x2="193.4" y2="227.89999999999998" stroke="#333" stroke-width="0.55" />
<text x="187.1" y="230.74999999999997" text-anchor="end" >1.0</text>
<line x1="190.0" y1="201.14999999999998" x2="193.4" y2="201.14999999999998" stroke="#333" stroke-width="0.55" />
<text x="187.1" y="203.99999999999997" text-anchor="end" >1.5</text>
<line x1="201.3" y1="281.4" x2="201.3" y2="284.79999999999995" stroke="#333" stroke-width="0.55" />
<line x1="218.3" y1="281.4" x2="218.3" y2="284.79999999999995" stroke="#333" stroke-width="0.55" />
<rect x="195.90" y="227.90" width="4.50" height="53.50" fill="#5f6466" />
<rect x="202.10" y="262.14" width="4.50" height="19.26" fill="#98142a" />
<rect x="212.80" y="227.90" width="4.50" height="53.50" fill="#5f6466" />
<rect x="219.20" y="263.75" width="4.50" height="17.65" fill="#98142a" />
<line x1="198.1" y1="219.8" x2="198.1" y2="228.5" stroke="#555" stroke-width="0.6" />
<line x1="197.1" y1="219.8" x2="199.1" y2="219.8" stroke="#555" stroke-width="0.6" />
<line x1="215" y1="217.4" x2="215" y2="228.5" stroke="#555" stroke-width="0.6" />
<line x1="214.0" y1="217.4" x2="216.0" y2="217.4" stroke="#555" stroke-width="0.6" />
<line x1="204.3" y1="261.2" x2="204.3" y2="263" stroke="#222" stroke-width="0.6" />
<line x1="203.3" y1="261.2" x2="205.3" y2="261.2" stroke="#222" stroke-width="0.6" />
<line x1="221.4" y1="262.4" x2="221.4" y2="264.6" stroke="#222" stroke-width="0.6" />
<line x1="220.4" y1="262.4" x2="222.4" y2="262.4" stroke="#222" stroke-width="0.6" />
<g fill="#111"><circle cx="197.9" cy="207.9" r="0.85"/><circle cx="197.9" cy="225.2" r="0.85"/><circle cx="198.2" cy="228.0" r="0.85"/><circle cx="198.0" cy="239.4" r="0.85"/><circle cx="215.0" cy="199.0" r="0.85"/><circle cx="215.0" cy="227.0" r="0.85"/><circle cx="214.6" cy="240.0" r="0.85"/><circle cx="215.2" cy="243.7" r="0.85"/><circle cx="203.6" cy="261.6" r="0.85"/><circle cx="205.2" cy="262.0" r="0.85"/><circle cx="204.2" cy="263.0" r="0.85"/><circle cx="204.8" cy="263.6" r="0.85"/><circle cx="220.6" cy="263.4" r="0.85"/><circle cx="222.2" cy="262.6" r="0.85"/><circle cx="221.2" cy="264.6" r="0.85"/><circle cx="221.8" cy="265.6" r="0.85"/></g>
<text x="204.8" y="184.8" font-size="6.65" ><tspan font-style="italic">P</tspan> = 0.013</text>
<line x1="214" y1="186.4" x2="224" y2="186.4" stroke="#222" stroke-width="0.55" />
<text x="189" y="193.7" font-size="6.65" ><tspan font-style="italic">P</tspan> = 0.0038</text>
<line x1="197.1" y1="195.5" x2="206.6" y2="195.5" stroke="#222" stroke-width="0.55" />
<rect x="233.10" y="196.30" width="10.00" height="4.75" fill="#5f6466" />
<text x="246" y="200.9" >WT</text>
<rect x="233.10" y="204.90" width="10.00" height="4.75" fill="#98142a" />
<text x="246" y="209.5" >LRRC58<tspan font-size="4.7" dy="-2.30">OE</tspan></text>
<text text-anchor="middle" font-size="6.75" transform="translate(162.5 239.2) rotate(-90)" >Metabolite abundace</text>
<text text-anchor="middle" font-size="6.6" transform="translate(170.8 239.2) rotate(-90)" >(relative to WT)</text>
<text text-anchor="end" font-size="6.75" transform="translate(203.8 291.1) rotate(-45)" >Hypotaurine</text>
<text text-anchor="end" font-size="6.75" transform="translate(220.6 291.1) rotate(-45)" >Taurine</text>
<text transform="translate(306.7 184.5) scale(1.04 1)" font-size="10.6" font-weight="bold" fill="#111" stroke="#111" stroke-width="0.08">f</text>
<line x1="342.6" y1="198.4" x2="342.6" y2="272.6" stroke="#333" stroke-width="0.6" />
<line x1="339.20000000000005" y1="272.3" x2="362.6" y2="272.3" stroke="#333" stroke-width="0.6" />
<text x="336.30000000000007" y="275.15000000000003" text-anchor="end" >0</text>
<line x1="339.20000000000005" y1="251.10000000000002" x2="342.6" y2="251.10000000000002" stroke="#333" stroke-width="0.55" />
<text x="336.30000000000007" y="253.95000000000002" text-anchor="end" >0.5</text>
<line x1="339.20000000000005" y1="229.9" x2="342.6" y2="229.9" stroke="#333" stroke-width="0.55" />
<text x="336.30000000000007" y="232.75" text-anchor="end" >1.0</text>
<line x1="339.20000000000005" y1="208.70000000000002" x2="342.6" y2="208.70000000000002" stroke="#333" stroke-width="0.55" />
<text x="336.30000000000007" y="211.55" text-anchor="end" >1.5</text>
<line x1="351.6" y1="272.3" x2="351.6" y2="275.3" stroke="#333" stroke-width="0.55" />
<rect x="345.10" y="229.90" width="5.90" height="42.40" fill="#5f6466" />
<rect x="354.00" y="243.89" width="6.00" height="28.41" fill="#98142a" />
<line x1="348" y1="225" x2="348" y2="229.5" stroke="#333" stroke-width="0.6" />
<line x1="346.4" y1="225" x2="349.6" y2="225" stroke="#333" stroke-width="0.6" />
<line x1="357" y1="241.4" x2="357" y2="244" stroke="#222" stroke-width="0.6" />
<line x1="355.4" y1="241.4" x2="358.6" y2="241.4" stroke="#222" stroke-width="0.6" />
<g fill="#111"><circle cx="347.8" cy="210.1" r="0.85"/><circle cx="347.2" cy="225.2" r="0.85"/><circle cx="349.0" cy="226.0" r="0.85"/><circle cx="348.0" cy="233.2" r="0.85"/><circle cx="347.8" cy="246.2" r="0.85"/><circle cx="355.0" cy="238.9" r="0.85"/><circle cx="358.7" cy="238.9" r="0.85"/><circle cx="355.0" cy="250.4" r="0.85"/><circle cx="358.7" cy="250.4" r="0.85"/><circle cx="357.0" cy="244.8" r="0.85"/></g>
<text x="342.6" y="196.7" font-size="6.65" ><tspan font-style="italic">P</tspan> = 0.021</text>
<line x1="347.6" y1="198.5" x2="354" y2="198.5" stroke="#222" stroke-width="0.55" />
<rect x="374.40" y="193.00" width="9.40" height="4.75" fill="#5f6466" />
<text x="386.8" y="197.6" >scr</text>
<rect x="374.40" y="201.40" width="9.40" height="4.75" fill="#98142a" />
<text x="386.8" y="206.0" >LRRC58<tspan font-size="4.7" dy="-2.30">siA</tspan></text>
<text text-anchor="middle" font-size="6.75" transform="translate(311.7 235.2) rotate(-90)" >Metabolite abundace</text>
<text text-anchor="middle" font-size="6.6" transform="translate(319.8 235.2) rotate(-90)" >(relative to scr)</text>
<text text-anchor="end" transform="translate(354.3 280.2) rotate(-45)" ><tspan font-size="4.2" dy="-2.30">13</tspan><tspan dy="2.30">C</tspan><tspan font-size="4.2" dy="1.20">3</tspan><tspan dy="-1.20">, </tspan><tspan font-size="4.2" dy="-2.30">15</tspan><tspan dy="2.30">N</tspan><tspan font-size="4.2" dy="1.20">1</tspan><tspan dy="-1.20">- Cysteine</tspan></text>
<text transform="translate(441.5 183.9) scale(1.06 1)" font-size="10.5" font-weight="bold" fill="#111" stroke="#111" stroke-width="0.08">g</text>
<line x1="478.1" y1="192.3" x2="478.1" y2="271.3" stroke="#333" stroke-width="0.6" />
<line x1="474.70000000000005" y1="271.0" x2="512" y2="271.0" stroke="#333" stroke-width="0.6" />
<text x="471.80000000000007" y="273.85" text-anchor="end" >0</text>
<line x1="474.70000000000005" y1="236.85" x2="478.1" y2="236.85" stroke="#333" stroke-width="0.55" />
<text x="471.80000000000007" y="239.7" text-anchor="end" >1.0</text>
<line x1="474.70000000000005" y1="202.7" x2="478.1" y2="202.7" stroke="#333" stroke-width="0.55" />
<text x="471.80000000000007" y="205.54999999999998" text-anchor="end" >2.0</text>
<line x1="485.9" y1="271.0" x2="485.9" y2="274.4" stroke="#333" stroke-width="0.55" />
<line x1="504.2" y1="271.0" x2="504.2" y2="274.4" stroke="#333" stroke-width="0.55" />
<rect x="480.40" y="236.85" width="4.70" height="34.15" fill="#5f6466" />
<rect x="487.10" y="206.80" width="4.70" height="64.20" fill="#98142a" />
<rect x="498.50" y="236.85" width="4.70" height="34.15" fill="#5f6466" />
<rect x="505.20" y="224.90" width="4.70" height="46.10" fill="#98142a" />
<line x1="482.7" y1="234.4" x2="482.7" y2="237.5" stroke="#222" stroke-width="0.6" />
<line x1="481.7" y1="234.4" x2="483.7" y2="234.4" stroke="#222" stroke-width="0.6" />
<line x1="489.5" y1="203.6" x2="489.5" y2="207.5" stroke="#222" stroke-width="0.6" />
<line x1="488.5" y1="203.6" x2="490.5" y2="203.6" stroke="#222" stroke-width="0.6" />
<line x1="500.8" y1="234.4" x2="500.8" y2="237.5" stroke="#222" stroke-width="0.6" />
<line x1="499.8" y1="234.4" x2="501.8" y2="234.4" stroke="#222" stroke-width="0.6" />
<line x1="507.5" y1="220.6" x2="507.5" y2="225.5" stroke="#222" stroke-width="0.6" />
<line x1="506.5" y1="220.6" x2="508.5" y2="220.6" stroke="#222" stroke-width="0.6" />
<g fill="#111"><circle cx="482.6" cy="230.7" r="0.85"/><circle cx="482.2" cy="233.0" r="0.85"/><circle cx="483.0" cy="235.0" r="0.85"/><circle cx="482.6" cy="238.0" r="0.85"/><circle cx="482.6" cy="243.0" r="0.85"/><circle cx="489.6" cy="197.7" r="0.85"/><circle cx="489.6" cy="203.9" r="0.85"/><circle cx="489.2" cy="207.0" r="0.85"/><circle cx="490.0" cy="210.0" r="0.85"/><circle cx="489.6" cy="213.8" r="0.85"/><circle cx="500.7" cy="230.7" r="0.85"/><circle cx="500.3" cy="233.5" r="0.85"/><circle cx="501.1" cy="236.0" r="0.85"/><circle cx="500.7" cy="239.0" r="0.85"/><circle cx="500.7" cy="242.0" r="0.85"/><circle cx="507.4" cy="210.9" r="0.85"/><circle cx="507.4" cy="220.8" r="0.85"/><circle cx="507.0" cy="225.0" r="0.85"/><circle cx="507.8" cy="229.0" r="0.85"/><circle cx="507.4" cy="233.5" r="0.85"/></g>
<text x="471.7" y="188.8" font-size="6.65" ><tspan font-style="italic">P</tspan> = 1.2 &#215; 10<tspan font-size="4.6" dy="-2.30">&#8211;5</tspan></text>
<line x1="482.1" y1="190.8" x2="490" y2="190.8" stroke="#222" stroke-width="0.55" />
<text x="495" y="204.9" font-size="6.65" ><tspan font-style="italic">P</tspan> = 0.013</text>
<line x1="500.7" y1="206.7" x2="508.2" y2="206.7" stroke="#222" stroke-width="0.55" />
<rect x="529.30" y="193.00" width="9.20" height="4.75" fill="#5f6466" />
<text x="541.7" y="197.6" >scr</text>
<rect x="529.30" y="201.40" width="9.20" height="4.75" fill="#98142a" />
<text x="541.7" y="206.0" >LRRC58<tspan font-size="4.7" dy="-2.30">siA</tspan></text>
<text text-anchor="middle" font-size="6.75" transform="translate(446.9 231.9) rotate(-90)" >Metabolite abundace</text>
<text text-anchor="middle" font-size="6.6" transform="translate(455.6 231.9) rotate(-90)" >(relative to scr)</text>
<text text-anchor="end" font-size="6.65" transform="translate(488.6 279.7) rotate(-45)" ><tspan font-size="4.2" dy="-2.30">13</tspan><tspan dy="2.30">C</tspan><tspan font-size="4.2" dy="1.20">2</tspan><tspan dy="-1.20">, </tspan><tspan font-size="4.2" dy="-2.30">15</tspan><tspan dy="2.30">N</tspan><tspan font-size="4.2" dy="1.20">1</tspan><tspan dy="-1.20">-Hypotaurine</tspan></text>
<text text-anchor="end" font-size="6.65" transform="translate(507.0 279.7) rotate(-45)" ><tspan font-size="4.2" dy="-2.30">13</tspan><tspan dy="2.30">C</tspan><tspan font-size="4.2" dy="1.20">2</tspan><tspan dy="-1.20">, </tspan><tspan font-size="4.2" dy="-2.30">15</tspan><tspan dy="2.30">N</tspan><tspan font-size="4.2" dy="1.20">1</tspan><tspan dy="-1.20">-Taurine</tspan></text>
</svg>
</body></html>
